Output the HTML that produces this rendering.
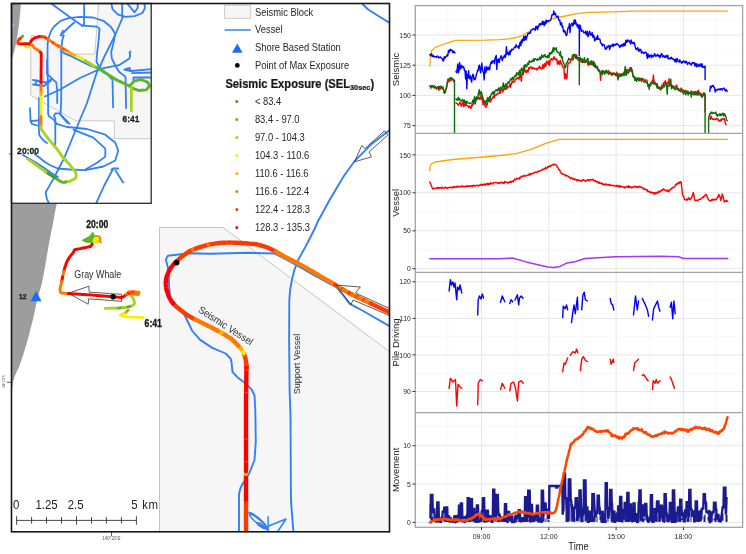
<!DOCTYPE html>
<html><head><meta charset="utf-8"><title>Seismic exposure figure</title>
<style>
html,body{margin:0;padding:0;background:#fff;}
body{width:746px;height:554px;overflow:hidden;}
svg{display:block;font-family:"Liberation Sans",Arial,sans-serif;}
</style></head><body>
<svg width="746" height="554" viewBox="0 0 746 554">
<rect width="746" height="554" fill="#fff"/>
<g id="charts">
<rect x="415.3" y="5.6" width="327.3" height="521.6999999999999" fill="#fff"/>
<line x1="415.3" x2="742.6" y1="110.5" y2="110.5" stroke="#f2f2f2" stroke-width="0.6"/>
<line x1="415.3" x2="742.6" y1="80.3" y2="80.3" stroke="#f2f2f2" stroke-width="0.6"/>
<line x1="415.3" x2="742.6" y1="50.1" y2="50.1" stroke="#f2f2f2" stroke-width="0.6"/>
<line x1="415.3" x2="742.6" y1="19.9" y2="19.9" stroke="#f2f2f2" stroke-width="0.6"/>
<line x1="447.9" x2="447.9" y1="5.6" y2="133.3" stroke="#f2f2f2" stroke-width="0.6"/>
<line x1="515.1" x2="515.1" y1="5.6" y2="133.3" stroke="#f2f2f2" stroke-width="0.6"/>
<line x1="582.4" x2="582.4" y1="5.6" y2="133.3" stroke="#f2f2f2" stroke-width="0.6"/>
<line x1="649.7" x2="649.7" y1="5.6" y2="133.3" stroke="#f2f2f2" stroke-width="0.6"/>
<line x1="717.0" x2="717.0" y1="5.6" y2="133.3" stroke="#f2f2f2" stroke-width="0.6"/>
<line x1="415.3" x2="742.6" y1="125.6" y2="125.6" stroke="#e6e6e6" stroke-width="1"/>
<line x1="415.3" x2="742.6" y1="95.4" y2="95.4" stroke="#e6e6e6" stroke-width="1"/>
<line x1="415.3" x2="742.6" y1="65.2" y2="65.2" stroke="#e6e6e6" stroke-width="1"/>
<line x1="415.3" x2="742.6" y1="35.0" y2="35.0" stroke="#e6e6e6" stroke-width="1"/>
<line x1="481.5" x2="481.5" y1="5.6" y2="133.3" stroke="#e6e6e6" stroke-width="1"/>
<line x1="548.8" x2="548.8" y1="5.6" y2="133.3" stroke="#e6e6e6" stroke-width="1"/>
<line x1="616.1" x2="616.1" y1="5.6" y2="133.3" stroke="#e6e6e6" stroke-width="1"/>
<line x1="683.4" x2="683.4" y1="5.6" y2="133.3" stroke="#e6e6e6" stroke-width="1"/>
<line x1="415.3" x2="742.6" y1="249.7" y2="249.7" stroke="#f2f2f2" stroke-width="0.6"/>
<line x1="415.3" x2="742.6" y1="211.8" y2="211.8" stroke="#f2f2f2" stroke-width="0.6"/>
<line x1="415.3" x2="742.6" y1="173.9" y2="173.9" stroke="#f2f2f2" stroke-width="0.6"/>
<line x1="447.9" x2="447.9" y1="133.3" y2="272.4" stroke="#f2f2f2" stroke-width="0.6"/>
<line x1="515.1" x2="515.1" y1="133.3" y2="272.4" stroke="#f2f2f2" stroke-width="0.6"/>
<line x1="582.4" x2="582.4" y1="133.3" y2="272.4" stroke="#f2f2f2" stroke-width="0.6"/>
<line x1="649.7" x2="649.7" y1="133.3" y2="272.4" stroke="#f2f2f2" stroke-width="0.6"/>
<line x1="717.0" x2="717.0" y1="133.3" y2="272.4" stroke="#f2f2f2" stroke-width="0.6"/>
<line x1="415.3" x2="742.6" y1="268.7" y2="268.7" stroke="#e6e6e6" stroke-width="1"/>
<line x1="415.3" x2="742.6" y1="230.8" y2="230.8" stroke="#e6e6e6" stroke-width="1"/>
<line x1="415.3" x2="742.6" y1="192.8" y2="192.8" stroke="#e6e6e6" stroke-width="1"/>
<line x1="415.3" x2="742.6" y1="154.9" y2="154.9" stroke="#e6e6e6" stroke-width="1"/>
<line x1="481.5" x2="481.5" y1="133.3" y2="272.4" stroke="#e6e6e6" stroke-width="1"/>
<line x1="548.8" x2="548.8" y1="133.3" y2="272.4" stroke="#e6e6e6" stroke-width="1"/>
<line x1="616.1" x2="616.1" y1="133.3" y2="272.4" stroke="#e6e6e6" stroke-width="1"/>
<line x1="683.4" x2="683.4" y1="133.3" y2="272.4" stroke="#e6e6e6" stroke-width="1"/>
<line x1="415.3" x2="742.6" y1="409.8" y2="409.8" stroke="#f2f2f2" stroke-width="0.6"/>
<line x1="415.3" x2="742.6" y1="373.2" y2="373.2" stroke="#f2f2f2" stroke-width="0.6"/>
<line x1="415.3" x2="742.6" y1="336.6" y2="336.6" stroke="#f2f2f2" stroke-width="0.6"/>
<line x1="415.3" x2="742.6" y1="300.1" y2="300.1" stroke="#f2f2f2" stroke-width="0.6"/>
<line x1="447.9" x2="447.9" y1="272.4" y2="412.6" stroke="#f2f2f2" stroke-width="0.6"/>
<line x1="515.1" x2="515.1" y1="272.4" y2="412.6" stroke="#f2f2f2" stroke-width="0.6"/>
<line x1="582.4" x2="582.4" y1="272.4" y2="412.6" stroke="#f2f2f2" stroke-width="0.6"/>
<line x1="649.7" x2="649.7" y1="272.4" y2="412.6" stroke="#f2f2f2" stroke-width="0.6"/>
<line x1="717.0" x2="717.0" y1="272.4" y2="412.6" stroke="#f2f2f2" stroke-width="0.6"/>
<line x1="415.3" x2="742.6" y1="391.5" y2="391.5" stroke="#e6e6e6" stroke-width="1"/>
<line x1="415.3" x2="742.6" y1="354.9" y2="354.9" stroke="#e6e6e6" stroke-width="1"/>
<line x1="415.3" x2="742.6" y1="318.4" y2="318.4" stroke="#e6e6e6" stroke-width="1"/>
<line x1="415.3" x2="742.6" y1="281.8" y2="281.8" stroke="#e6e6e6" stroke-width="1"/>
<line x1="481.5" x2="481.5" y1="272.4" y2="412.6" stroke="#e6e6e6" stroke-width="1"/>
<line x1="548.8" x2="548.8" y1="272.4" y2="412.6" stroke="#e6e6e6" stroke-width="1"/>
<line x1="616.1" x2="616.1" y1="272.4" y2="412.6" stroke="#e6e6e6" stroke-width="1"/>
<line x1="683.4" x2="683.4" y1="272.4" y2="412.6" stroke="#e6e6e6" stroke-width="1"/>
<line x1="415.3" x2="742.6" y1="503.2" y2="503.2" stroke="#f2f2f2" stroke-width="0.6"/>
<line x1="415.3" x2="742.6" y1="464.9" y2="464.9" stroke="#f2f2f2" stroke-width="0.6"/>
<line x1="415.3" x2="742.6" y1="426.6" y2="426.6" stroke="#f2f2f2" stroke-width="0.6"/>
<line x1="447.9" x2="447.9" y1="412.6" y2="527.3" stroke="#f2f2f2" stroke-width="0.6"/>
<line x1="515.1" x2="515.1" y1="412.6" y2="527.3" stroke="#f2f2f2" stroke-width="0.6"/>
<line x1="582.4" x2="582.4" y1="412.6" y2="527.3" stroke="#f2f2f2" stroke-width="0.6"/>
<line x1="649.7" x2="649.7" y1="412.6" y2="527.3" stroke="#f2f2f2" stroke-width="0.6"/>
<line x1="717.0" x2="717.0" y1="412.6" y2="527.3" stroke="#f2f2f2" stroke-width="0.6"/>
<line x1="415.3" x2="742.6" y1="522.4" y2="522.4" stroke="#e6e6e6" stroke-width="1"/>
<line x1="415.3" x2="742.6" y1="484.1" y2="484.1" stroke="#e6e6e6" stroke-width="1"/>
<line x1="415.3" x2="742.6" y1="445.8" y2="445.8" stroke="#e6e6e6" stroke-width="1"/>
<line x1="481.5" x2="481.5" y1="412.6" y2="527.3" stroke="#e6e6e6" stroke-width="1"/>
<line x1="548.8" x2="548.8" y1="412.6" y2="527.3" stroke="#e6e6e6" stroke-width="1"/>
<line x1="616.1" x2="616.1" y1="412.6" y2="527.3" stroke="#e6e6e6" stroke-width="1"/>
<line x1="683.4" x2="683.4" y1="412.6" y2="527.3" stroke="#e6e6e6" stroke-width="1"/>
</g>
<g id="chartdata" fill="none" stroke-linejoin="round" stroke-linecap="round">
<polyline points="429.8,66.0 430.3,58.0 431.4,51.0 435.0,47.6 440.0,45.5 450.2,42.1 455.0,40.4 485.5,40.2 500.0,39.6 509.0,38.8 516.0,37.5 523.0,35.3 529.0,31.5 535.0,28.3 539.4,25.2 546.0,21.5 553.5,18.5 565.2,16.0 577.0,13.6 588.7,12.3 612.2,11.8 631.0,11.2 727.6,11.2" stroke="#ffa500" stroke-width="1.3"/>
<polyline points="429.8,54.7 430.4,55.6 431.0,55.3 431.6,53.6 432.2,56.5 432.8,56.3 433.4,55.4 434.0,56.9 434.6,56.8 435.2,56.8 435.8,56.7 436.4,57.4 437.0,56.0 437.6,56.8 438.2,56.5 438.8,58.0 439.4,57.4 440.0,57.1 440.6,56.9 441.2,57.9 441.8,58.6 442.4,58.6 443.0,60.9 443.6,60.9 444.2,56.8 444.8,57.1 445.4,58.0 446.0,56.5 446.6,56.1 447.2,54.8 447.8,55.9 448.4,50.8 449.0,50.4 449.6,52.1 450.2,49.2 450.8,50.4 451.4,50.2 452.0,50.0 452.6,52.4 453.2,52.6 453.8,51.2 454.4,52.1 455.0,53.0" stroke="#0000ff" stroke-width="1.4"/>
<polyline points="456.0,71.2 456.6,72.8 457.2,68.9 457.8,64.0 458.4,72.8 459.0,70.9 459.6,62.5 460.2,69.1 460.8,67.6 461.4,65.3 462.0,68.1 462.6,66.2 463.2,67.1 463.8,67.0 464.4,70.6 465.0,70.3 465.6,79.0 466.2,71.1 466.8,88.8 467.4,74.8 468.0,77.6 468.6,70.8 469.2,78.5 469.8,78.7 470.4,75.8 471.0,79.5 471.6,82.1 472.2,76.6 472.8,74.4 473.4,74.9 474.0,79.7 474.6,78.2 475.2,79.6 475.8,77.2 476.4,74.5 477.0,72.9 477.6,70.3 478.2,70.7 478.8,66.3 479.4,65.1 480.0,69.4 480.6,72.7 481.2,67.8 481.8,63.2 482.4,68.6 483.0,71.8 483.6,72.5 484.2,79.9 484.8,66.9 485.4,72.9 486.0,72.1 486.6,66.6 487.2,68.8 487.8,70.0 488.4,67.1 489.0,68.0 489.6,69.8 490.2,65.0 490.8,63.2 491.4,61.4 492.0,63.3 492.6,61.0 493.2,60.8 493.8,60.7 494.4,63.6 495.0,58.4 495.6,57.3 496.2,55.4 496.8,69.4 497.4,59.6 498.0,61.9 498.6,58.9 499.2,62.6 499.8,59.3 500.4,58.1 501.0,55.7 501.6,56.2 502.2,60.7 502.8,59.0 503.4,57.8 504.0,56.3 504.6,55.2 505.2,57.5 505.8,55.2 506.4,46.8 507.0,54.2 507.6,52.4 508.2,53.8 508.8,55.0 509.4,51.1 510.0,54.6 510.6,50.4 511.2,51.4 511.8,49.2 512.4,49.8 513.0,49.8 513.6,48.5 514.2,47.5 514.8,47.1 515.4,47.8 516.0,44.6 516.6,46.2 517.2,46.8 517.8,47.1 518.4,46.0 519.0,48.5 519.6,44.2 520.2,42.3 520.8,45.7 521.4,40.1 522.0,42.9 522.6,39.1 523.2,40.7 523.8,36.2 524.4,40.4 525.0,38.0 525.6,36.0 526.2,39.7 526.8,37.4 527.4,35.4 528.0,33.3 528.6,33.7 529.2,32.8 529.8,33.5 530.4,33.0 531.0,30.2 531.6,29.9 532.2,29.5 532.8,29.3 533.4,28.5 534.0,28.9 534.6,29.7 535.2,30.3 535.8,26.5 536.4,28.3 537.0,26.2 537.6,29.9 538.2,26.1 538.8,26.6 539.4,23.8 540.0,23.6 540.6,24.9 541.2,23.5 541.8,24.3 542.4,21.1 543.0,24.4 543.6,21.7 544.2,25.7 544.8,22.3 545.4,24.3 546.0,20.2 546.6,22.8 547.2,20.6 547.8,21.0 548.4,21.6 549.0,20.6 549.6,20.7 550.2,20.6 550.8,19.6 551.4,17.6 552.0,14.7 552.6,14.8 553.2,14.8 553.8,11.0 554.4,14.6 555.0,13.1 555.6,13.9 556.2,16.5 556.8,17.0 557.4,17.1 558.0,16.1 558.6,19.3 559.2,20.7 559.8,20.2 560.4,24.4 561.0,25.0 561.6,22.6 562.2,27.1 562.8,26.4 563.4,31.3 564.0,32.1 564.6,30.5 565.2,32.1 565.8,34.9 566.4,35.6 567.0,34.5 567.6,29.6 568.2,27.5 568.8,28.1 569.4,23.7 570.0,32.6 570.6,26.7 571.2,24.6 571.8,23.2 572.4,24.5 573.0,25.9 573.6,22.7 574.2,20.2 574.8,23.8 575.4,19.9 576.0,24.2 576.6,23.6 577.2,26.6 577.8,24.6 578.4,28.3 579.0,27.4 579.3,25.0 579.3,55.5 579.5,27.0 579.6,25.1 580.2,25.3 580.8,28.3 581.4,31.3 582.0,30.2 582.6,30.7 583.2,30.9 583.8,32.9 584.4,32.7 585.0,32.7 585.6,31.1 586.2,34.5 586.8,34.9 587.4,31.3 588.0,36.7 588.6,34.6 589.2,33.1 589.8,31.3 590.4,35.1 591.0,35.2 591.6,33.9 592.2,32.6 592.8,37.2 593.4,35.1 594.0,35.7 594.6,40.8 595.2,40.2 595.8,38.9 596.4,37.3 597.0,39.3 597.6,35.5 598.2,39.4 598.8,39.0 599.4,39.0 600.0,39.4 600.6,43.1 601.2,43.3 601.8,44.2 602.4,45.9 603.0,44.3 603.6,44.6 604.2,44.6 604.8,47.4 605.4,49.4 606.0,47.9 606.6,48.8 607.2,46.1 607.8,46.9 608.4,46.3 609.0,45.4 609.6,49.5 610.2,47.9 610.8,45.5 611.4,45.3 612.0,46.1 612.6,44.1 613.2,46.6 613.8,44.2 614.4,45.4 615.0,44.4 615.6,45.1 616.2,43.9 616.8,43.5 617.4,44.3 618.0,44.6 618.6,45.1 619.2,45.5 619.8,47.5 620.4,46.4 621.0,44.9 621.6,46.2 622.2,44.2 622.8,46.0 623.4,45.8 624.0,43.2 624.6,45.6 625.2,45.3 625.8,40.2 626.4,42.4 627.0,42.3 627.6,40.0 628.2,40.7 628.8,40.4 629.4,42.0 630.0,41.3 630.6,44.0 631.2,40.0 631.8,42.9 632.4,42.4 633.0,43.6 633.6,42.6 634.2,42.5 634.8,44.9 635.4,47.8 636.0,49.6 636.6,48.7 637.2,49.0 637.8,47.6 638.4,51.1 639.0,51.3 639.6,49.2 640.2,50.3 640.8,49.4 641.4,53.0 642.0,52.1 642.6,51.8 643.2,52.9 643.8,53.4 644.4,52.8 645.0,52.1 645.6,52.5 646.2,52.4 646.8,55.7 647.4,58.4 648.0,53.8 648.6,56.6 649.2,57.1 649.8,55.2 650.4,56.6 651.0,54.9 651.6,57.7 652.2,55.3 652.8,56.1 653.4,56.7 654.0,55.2 654.6,53.4 655.2,54.9 655.8,56.5 656.4,55.4 657.0,55.8 657.6,54.2 658.2,55.7 658.8,56.4 659.4,55.5 660.0,57.9 660.6,55.2 661.2,54.2 661.8,53.5 662.4,56.9 663.0,55.4 663.6,56.7 664.2,56.1 664.8,57.5 665.4,57.1 666.0,55.4 666.6,56.5 667.2,57.8 667.8,55.3 668.4,58.8 669.0,58.8 669.6,58.9 670.2,57.7 670.8,58.6 671.4,57.2 672.0,58.9 672.6,58.4 673.2,59.5 673.8,59.1 674.4,60.4 675.0,61.7 675.6,59.1 676.2,62.0 676.8,58.8 677.4,58.8 678.0,61.3 678.6,61.5 679.2,62.0 679.8,59.6 680.4,61.6 681.0,61.9 681.6,63.2 682.2,61.7 682.8,62.5 683.4,60.8 684.0,61.8 684.6,61.6 685.2,63.0 685.8,61.1 686.4,61.3 687.0,63.0 687.6,64.5 688.2,62.9 688.8,62.9 689.4,62.3 690.0,64.1 690.6,63.7 691.2,65.2 691.8,63.8 692.4,62.5 693.0,63.1 693.6,62.8 694.2,62.7 694.8,65.8 695.4,65.4 696.0,63.3 696.6,66.9 697.2,65.3 697.8,64.1 698.4,66.3 699.0,66.4 699.6,64.9 700.2,63.8 700.8,66.2 701.4,66.6 702.0,63.6 702.6,67.2 703.2,67.5 703.8,66.5 704.4,67.3 705.1,66.0 705.1,79.6" stroke="#0000ff" stroke-width="1.4"/>
<polyline points="709.8,91.3 710.4,86.3 711.0,88.1 711.6,86.4 712.2,85.6 712.8,86.4 713.4,85.4 714.0,87.6 714.6,87.6 715.2,92.0 715.8,89.8 716.4,89.9 717.0,90.4 717.6,89.7 718.2,89.0 718.8,89.3 719.4,89.8 720.0,88.8 720.6,89.8 721.2,88.6 721.8,88.7 722.4,90.0 723.0,89.0 723.6,88.0 724.2,88.4 724.8,89.5 725.4,91.1 726.0,89.5 726.6,90.0 727.2,91.5" stroke="#0000ff" stroke-width="1.4"/>
<polyline points="429.8,85.9 430.4,86.5 431.0,88.2 431.6,87.4 432.2,85.5 432.8,87.1 433.4,86.6 434.0,87.4 434.6,86.0 435.2,87.8 435.8,87.9 436.4,89.2 437.0,88.2 437.6,88.4 438.2,86.7 438.8,90.2 439.4,86.6 440.0,89.4 440.6,88.2 441.2,87.8 441.8,88.2 442.4,88.2 443.0,89.3 443.6,90.0 444.2,93.1 444.8,91.8 445.4,92.3 446.0,89.1 446.6,88.1 447.2,83.0 447.8,82.1 448.4,81.8 449.0,79.7 449.6,81.4 450.2,80.2 450.8,80.4 451.4,79.9 452.0,78.6 452.6,79.3 453.2,80.3 453.8,81.7" stroke="#ff0000" stroke-width="1.4"/>
<polyline points="456.0,102.9 456.6,103.3 457.2,103.6 457.8,104.4 458.4,105.4 459.0,103.9 459.6,102.9 460.2,102.6 460.8,104.6 461.4,106.5 462.0,103.9 462.6,102.2 463.2,102.9 463.8,106.9 464.4,105.3 465.0,103.0 465.6,105.6 466.2,104.4 466.8,105.3 467.4,105.7 468.0,105.6 468.6,107.5 469.2,106.8 469.8,106.2 470.4,107.8 471.0,108.5 471.6,104.9 472.2,106.0 472.8,104.2 473.4,104.4 474.0,102.0 474.6,103.0 475.2,102.1 475.8,100.9 476.4,99.2 477.0,99.6 477.6,98.2 478.2,97.3 478.8,99.0 479.4,97.3 480.0,99.3 480.6,98.2 481.2,95.1 481.8,99.5 482.4,98.9 483.0,104.8 483.6,104.1 484.2,101.5 484.8,105.2 485.4,106.4 486.0,107.4 486.6,103.4 487.2,105.0 487.8,101.4 488.4,101.4 489.0,99.6 489.6,101.7 490.2,99.6 490.8,101.8 491.4,98.9 492.0,98.8 492.6,98.3 493.2,96.0 493.8,96.3 494.4,97.8 495.0,95.0 495.6,95.4 496.2,94.7 496.8,95.1 497.4,93.4 498.0,93.3 498.6,93.5 499.2,93.0 499.8,91.3 500.4,93.3 501.0,90.0 501.6,89.8 502.2,89.3 502.8,92.0 503.4,89.8 504.0,88.7 504.6,88.1 505.2,89.8 505.8,87.5 506.4,86.8 507.0,89.0 507.6,86.2 508.2,87.0 508.8,87.1 509.4,86.0 510.0,83.8 510.6,87.2 511.2,84.0 511.8,82.4 512.4,81.0 513.0,82.6 513.6,81.8 514.2,82.0 514.8,80.4 515.4,79.8 516.0,78.9 516.6,78.5 517.2,78.8 517.8,77.5 518.4,77.5 519.0,79.3 519.6,76.8 520.2,73.4 520.8,77.2 521.4,81.4 522.0,72.8 522.6,74.9 523.2,73.2 523.8,72.9 524.4,65.9 525.0,70.6 525.6,71.6 526.2,72.5 526.8,70.2 527.4,70.8 528.0,72.3 528.6,67.8 529.2,69.3 529.8,67.8 530.4,67.0 531.0,66.9 531.6,68.2 532.2,68.7 532.8,67.4 533.4,68.1 534.0,68.9 534.6,68.3 535.2,69.0 535.8,68.4 536.4,68.4 537.0,70.1 537.6,68.4 538.2,67.7 538.8,68.4 539.4,66.2 540.0,66.9 540.6,68.4 541.2,68.1 541.8,69.2 542.4,66.7 543.0,64.3 543.6,68.4 544.2,66.8 544.8,63.5 545.4,66.3 546.0,65.4 546.6,61.2 547.2,62.6 547.8,62.1 548.4,64.4 549.0,60.8 549.6,65.5 550.2,60.4 550.8,60.1 551.4,58.5 552.0,59.4 552.6,60.0 553.2,58.9 553.8,56.9 554.4,57.2 555.0,59.5 555.6,59.0 556.2,59.8 556.8,59.0 557.4,64.2 558.0,63.1 558.6,61.0 559.2,63.8 559.8,64.7 560.4,60.2 561.0,62.9 561.6,63.4 562.2,65.8 562.8,67.1 563.4,67.0 564.0,68.4 564.6,78.7 565.2,73.6 565.8,74.8 566.4,79.0 567.0,77.6 567.6,66.8 568.2,63.0 568.8,63.0 569.4,62.8 570.0,62.7 570.6,61.2 571.2,58.8 571.8,59.8 572.4,58.7 573.0,60.0 573.6,56.8 574.2,54.3 574.8,54.4 575.4,58.2 576.0,56.3 576.6,54.9 577.2,57.4 577.8,58.8 578.4,60.6 579.0,59.6 579.6,60.3 580.2,60.6 580.8,58.9 581.4,59.7 582.0,62.4 582.6,62.5 583.2,61.6 583.8,61.1 584.4,62.3 585.0,60.8 585.6,61.1 586.2,60.3 586.8,61.6 587.4,61.7 588.0,65.5 588.6,62.0 589.2,64.1 589.8,64.4 590.4,62.8 591.0,64.7 591.6,60.7 592.2,63.8 592.8,65.0 593.4,61.2 594.0,63.4 594.6,66.8 595.2,65.9 595.8,65.5 596.4,67.0 597.0,67.5 597.6,69.7 598.2,70.0 598.8,69.8 599.4,70.0 600.0,71.4 600.6,80.3 601.2,72.5 601.8,72.9 602.4,71.9 603.0,70.6 603.6,71.3 604.2,73.0 604.8,72.4 605.4,71.2 606.0,70.4 606.6,72.5 607.2,72.0 607.8,72.0 608.4,70.6 609.0,74.3 609.6,72.9 610.2,73.9 610.8,74.0 611.4,74.6 612.0,75.0 612.6,72.9 613.2,73.4 613.8,74.2 614.4,73.4 615.0,74.6 615.6,75.5 616.2,73.3 616.8,72.2 617.4,76.0 618.0,74.7 618.6,75.7 619.2,73.4 619.8,76.9 620.4,75.5 621.0,74.2 621.6,73.8 622.2,74.1 622.8,73.6 623.4,73.2 624.0,72.0 624.6,74.7 625.2,74.4 625.8,74.8 626.4,72.6 627.0,69.1 627.6,72.0 628.2,70.3 628.8,69.8 629.4,69.7 630.0,67.8 630.6,69.4 631.2,67.8 631.8,69.3 632.4,71.1 633.0,76.3 633.6,76.6 634.2,76.8 634.8,77.2 635.4,80.3 636.0,77.7 636.6,80.4 637.2,78.9 637.8,78.2 638.4,78.2 639.0,78.2 639.6,80.1 640.2,78.8 640.8,80.1 641.4,81.5 642.0,79.0 642.6,78.4 643.2,79.0 643.8,79.1 644.4,80.5 645.0,80.9 645.6,80.7 646.2,79.7 646.8,80.2 647.4,82.3 648.0,86.7 648.6,86.1 649.2,85.3 649.8,84.8 650.4,85.9 651.0,84.0 651.6,81.9 652.2,81.0 652.8,81.9 653.4,75.0 654.0,81.2 654.6,81.8 655.2,83.1 655.8,83.4 656.4,85.4 657.0,83.5 657.6,85.4 658.2,88.4 658.8,86.8 659.4,88.8 660.0,89.3 660.6,89.9 661.2,88.5 661.8,85.3 662.4,85.8 663.0,84.9 663.6,82.8 664.2,83.3 664.8,81.7 665.4,80.8 666.0,83.2 666.6,83.2 667.2,82.8 667.8,82.8 668.4,83.6 669.0,78.6 669.6,84.3 670.2,85.0 670.8,84.9 671.4,86.1 672.0,86.6 672.6,86.7 673.2,85.8 673.8,86.2 674.4,87.7 675.0,87.3 675.6,87.8 676.2,85.3 676.8,85.3 677.4,89.0 678.0,89.2 678.6,90.5 679.2,89.9 679.8,89.5 680.4,89.5 681.0,88.0 681.6,90.8 682.2,89.3 682.8,90.7 683.4,90.5 684.0,90.8 684.6,91.7 685.2,90.3 685.8,90.5 686.4,92.4 687.0,90.9 687.6,93.4 688.2,91.3 688.8,93.1 689.4,92.8 690.0,92.8 690.6,93.0 691.2,91.0 691.8,92.6 692.4,94.1 693.0,91.6 693.6,92.4 694.2,91.8 694.8,93.0 695.4,91.5 696.0,94.6 696.6,92.4 697.2,91.2 697.8,95.0 698.4,90.2 699.0,93.8 699.6,93.9 700.2,93.0 700.8,93.2 701.4,94.3 702.0,94.6 702.6,94.7 703.2,94.0 703.8,93.3 704.4,93.7 705.0,95.2 705.1,94.0 705.1,112.0" stroke="#ff0000" stroke-width="1.4"/>
<polyline points="709.8,118.5 710.4,119.2 711.0,115.9 711.6,117.9 712.2,119.0 712.8,119.4 713.4,118.9 714.0,119.7 714.6,118.9 715.2,119.3 715.8,119.2 716.4,118.3 717.0,118.7 717.6,119.8 718.2,119.2 718.8,120.9 719.4,121.0 720.0,121.3 720.6,119.7 721.2,120.7 721.8,118.7 722.4,118.7 723.0,119.3 723.6,119.3 724.2,118.4 724.8,120.2 725.4,123.7 726.0,124.7" stroke="#ff0000" stroke-width="1.4"/>
<polyline points="429.8,86.0 430.4,86.4 431.0,86.0 431.6,85.5 432.2,86.1 432.8,85.7 433.4,86.7 434.0,88.0 434.6,86.5 435.2,86.5 435.8,87.6 436.4,87.6 437.0,87.4 437.6,86.6 438.2,87.5 438.8,88.3 439.4,86.5 440.0,87.4 440.6,86.2 441.2,86.9 441.8,86.5 442.4,88.1 443.0,87.2 443.6,89.9 444.2,91.8 444.8,93.4 445.4,90.0 446.0,88.9 446.6,86.4 447.2,83.7 447.8,79.3 448.4,79.4 449.0,78.6 449.6,78.3 450.2,79.6 450.8,77.5 451.4,77.8 452.0,79.2 452.6,78.5 453.2,79.5 453.8,80.3 454.5,80.0 454.5,133.0" stroke="#0b6e0b" stroke-width="1.4"/>
<polyline points="456.0,98.9 456.6,100.0 457.2,98.9 457.8,100.1 458.4,97.1 459.0,99.9 459.6,98.6 460.2,100.9 460.8,100.8 461.4,101.2 462.0,100.1 462.6,99.4 463.2,101.1 463.8,102.4 464.4,99.9 465.0,102.7 465.6,101.6 466.2,104.1 466.8,101.1 467.4,102.0 468.0,103.1 468.6,103.1 469.2,103.0 469.8,103.6 470.4,103.1 471.0,103.1 471.6,103.1 472.2,102.9 472.8,100.2 473.4,103.3 474.0,99.2 474.6,96.6 475.2,104.0 475.8,100.3 476.4,96.9 477.0,99.1 477.6,98.5 478.2,94.5 478.8,91.7 479.4,89.7 480.0,95.5 480.6,92.1 481.2,91.8 481.8,93.4 482.4,96.6 483.0,97.9 483.6,100.5 484.2,102.0 484.8,100.7 485.4,103.2 486.0,101.1 486.6,101.6 487.2,98.8 487.8,97.6 488.4,101.0 489.0,99.5 489.6,96.6 490.2,98.3 490.8,95.5 491.4,93.8 492.0,93.5 492.6,92.0 493.2,94.0 493.8,91.6 494.4,94.0 495.0,90.7 495.6,90.2 496.2,89.7 496.8,90.7 497.4,89.6 498.0,90.9 498.6,87.9 499.2,88.7 499.8,90.6 500.4,87.3 501.0,88.0 501.6,89.0 502.2,87.3 502.8,85.3 503.4,83.0 504.0,88.7 504.6,85.7 505.2,86.5 505.8,83.8 506.4,86.5 507.0,84.4 507.6,83.4 508.2,81.8 508.8,83.1 509.4,81.4 510.0,81.2 510.6,78.7 511.2,79.6 511.8,79.9 512.4,77.4 513.0,77.7 513.6,79.7 514.2,76.9 514.8,75.9 515.4,75.3 516.0,76.8 516.6,72.8 517.2,73.9 517.8,73.1 518.4,75.2 519.0,72.4 519.6,70.4 520.2,74.0 520.8,70.9 521.4,68.3 522.0,68.3 522.6,71.8 523.2,74.3 523.8,65.9 524.4,68.0 525.0,64.6 525.6,64.8 526.2,66.4 526.8,66.9 527.4,63.9 528.0,63.0 528.6,64.5 529.2,60.8 529.8,62.0 530.4,61.6 531.0,62.4 531.6,61.3 532.2,60.4 532.8,61.4 533.4,58.9 534.0,61.2 534.6,59.1 535.2,58.6 535.8,59.1 536.4,59.5 537.0,60.2 537.6,58.8 538.2,59.8 538.8,60.0 539.4,58.4 540.0,57.0 540.6,59.4 541.2,58.3 541.8,55.0 542.4,56.3 543.0,57.6 543.6,55.4 544.2,56.1 544.8,54.5 545.4,57.1 546.0,56.7 546.6,56.4 547.2,57.9 547.8,55.4 548.4,55.3 549.0,57.8 549.6,52.6 550.2,54.3 550.8,53.5 551.4,51.9 552.0,53.4 552.6,50.1 553.2,47.8 553.8,51.6 554.4,48.0 555.0,48.6 555.6,49.5 556.2,47.6 556.8,51.0 557.4,52.4 558.0,52.3 558.6,52.8 559.2,53.2 559.8,55.6 560.4,51.4 561.0,56.4 561.6,58.0 562.2,56.6 562.8,61.3 563.4,62.2 564.0,63.9 564.6,65.7 565.2,67.9 565.8,66.4 566.4,63.0 567.0,62.8 567.6,61.3 568.2,60.2 568.8,58.2 569.4,59.7 570.0,59.6 570.6,59.4 571.2,59.5 571.8,58.4 572.4,55.5 573.0,54.8 573.6,54.6 574.2,55.3 574.8,54.4 575.4,56.6 576.0,58.3 576.6,56.4 577.2,59.0 577.8,58.1 578.4,57.5 579.0,57.6 579.3,59.0 579.3,84.8 579.5,60.0 579.6,59.0 580.2,57.2 580.8,60.4 581.4,61.9 582.0,58.6 582.6,59.9 583.2,62.4 583.8,61.1 584.4,57.6 585.0,60.7 585.6,62.5 586.2,61.8 586.8,60.2 587.4,58.7 588.0,58.5 588.6,63.0 589.2,62.0 589.8,64.3 590.4,63.4 591.0,61.3 591.6,63.5 592.2,64.8 592.8,62.4 593.4,63.1 594.0,66.6 594.6,62.9 595.2,64.4 595.8,67.8 596.4,67.5 597.0,66.5 597.6,66.8 598.2,69.9 598.8,71.5 599.4,71.7 600.0,71.9 600.6,73.9 601.2,72.5 601.8,71.1 602.4,74.7 603.0,70.8 603.6,72.2 604.2,72.3 604.8,74.3 605.4,71.6 606.0,72.3 606.6,70.5 607.2,73.2 607.8,73.4 608.4,73.7 609.0,71.9 609.6,73.4 610.2,72.1 610.8,72.8 611.4,73.4 612.0,75.2 612.6,74.5 613.2,74.2 613.8,73.1 614.4,73.6 615.0,73.6 615.6,74.4 616.2,75.7 616.8,73.5 617.4,75.9 618.0,79.8 618.6,75.7 619.2,74.8 619.8,74.9 620.4,74.6 621.0,76.2 621.6,75.0 622.2,75.8 622.8,73.8 623.4,73.8 624.0,75.8 624.6,71.7 625.2,66.5 625.8,73.0 626.4,75.4 627.0,71.6 627.6,72.7 628.2,73.1 628.8,72.6 629.4,69.8 630.0,71.4 630.6,68.1 631.2,67.7 631.8,71.9 632.4,72.2 633.0,76.3 633.6,77.2 634.2,76.4 634.8,80.4 635.4,80.1 636.0,79.3 636.6,81.4 637.2,78.0 637.8,78.6 638.4,79.5 639.0,81.0 639.6,78.2 640.2,79.3 640.8,79.2 641.4,78.3 642.0,79.9 642.6,79.4 643.2,80.8 643.8,82.1 644.4,81.2 645.0,81.8 645.6,82.1 646.2,82.8 646.8,82.4 647.4,83.4 648.0,85.4 648.6,84.7 649.2,89.5 649.8,84.2 650.4,85.3 651.0,82.5 651.6,83.5 652.2,82.8 652.8,82.9 653.4,84.1 654.0,82.8 654.6,82.1 655.2,84.3 655.8,83.6 656.4,85.2 657.0,87.8 657.6,87.7 658.2,88.4 658.8,88.4 659.4,88.4 660.0,87.2 660.6,88.8 661.2,88.0 661.8,88.7 662.4,88.3 663.0,86.9 663.6,84.7 664.2,87.0 664.8,85.7 665.4,83.4 666.0,84.2 666.6,85.0 667.2,94.3 667.8,84.8 668.4,85.8 669.0,85.5 669.6,86.0 670.2,84.3 670.8,79.3 671.4,88.7 672.0,85.3 672.6,87.9 673.2,88.0 673.8,88.2 674.4,87.4 675.0,89.7 675.6,89.2 676.2,88.7 676.8,87.8 677.4,89.4 678.0,89.1 678.6,88.5 679.2,90.6 679.8,91.0 680.4,91.5 681.0,90.8 681.6,90.6 682.2,92.4 682.8,92.1 683.4,94.0 684.0,92.2 684.6,90.7 685.2,93.1 685.8,94.8 686.4,92.6 687.0,92.3 687.6,92.0 688.2,95.0 688.8,92.8 689.4,92.9 690.0,93.6 690.6,91.7 691.2,97.1 691.8,92.1 692.4,93.4 693.0,94.2 693.6,94.8 694.2,93.4 694.8,94.9 695.4,93.6 696.0,92.3 696.6,94.9 697.2,94.1 697.8,94.5 698.4,91.6 699.0,94.8 699.6,94.9 700.2,95.0 700.8,96.0 701.4,94.5 702.0,97.4 702.6,95.9 703.2,95.8 703.8,92.6 704.4,93.2 705.0,97.1 705.1,95.4 705.1,133.0" stroke="#0b6e0b" stroke-width="1.4"/>
<polyline points="708.6,133.0 708.6,118.0 709.8,113.6 710.4,114.0 711.0,112.0 711.6,113.4 712.2,113.4 712.8,112.3 713.4,113.3 714.0,113.3 714.6,113.0 715.2,112.8 715.8,112.1 716.4,115.1 717.0,114.1 717.6,116.4 718.2,115.2 718.8,114.7 719.4,113.9 720.0,115.5 720.6,114.0 721.2,115.6 721.8,114.0 722.4,114.5 723.0,113.1 723.6,116.1 724.2,114.2 724.8,113.9 725.4,116.2 726.0,116.9 726.6,120.3 727.2,120.8" stroke="#0b6e0b" stroke-width="1.4"/>
<polyline points="429.7,170.9 430.2,166.0 431.5,163.8 435.2,162.0 452.9,159.5 483.2,157.0 500.0,155.5 516.0,153.7 531.2,149.4 546.4,143.1 559.0,139.3 727.8,139.3" stroke="#ffa500" stroke-width="1.3"/>
<polyline points="429.7,181.8 430.2,183.1 430.7,184.1 431.2,185.7 431.7,186.5 432.2,187.7 432.7,189.0 433.2,189.0 433.7,188.7 434.2,188.3 434.7,188.1 435.2,188.1 435.7,188.3 436.2,188.4 436.7,187.9 437.2,187.8 437.7,188.4 438.2,187.4 438.7,188.1 439.2,188.4 439.7,187.7 440.2,187.6 440.7,187.7 441.2,188.3 441.7,188.0 442.2,187.1 442.7,187.8 443.2,188.4 443.7,188.3 444.2,188.1 444.7,187.7 445.2,187.0 445.7,187.8 446.2,187.7 446.7,187.7 447.2,188.4 447.7,187.7 448.2,187.7 448.7,187.8 449.2,187.4 449.7,187.2 450.2,187.1 450.7,187.8 451.2,187.6 451.7,187.2 452.2,187.9 452.7,187.4 453.2,186.7 453.7,187.5 454.2,187.2 454.7,186.6 455.2,187.4 455.7,187.0 456.2,186.9 456.7,187.3 457.2,186.0 457.7,186.4 458.2,186.8 458.7,187.0 459.2,186.6 459.7,186.4 460.2,186.4 460.7,186.7 461.2,187.1 461.7,186.1 462.2,185.8 462.7,186.5 463.2,186.5 463.7,186.2 464.2,186.8 464.7,186.9 465.2,186.3 465.7,186.3 466.2,186.7 466.7,186.2 467.2,185.7 467.7,186.3 468.2,185.9 468.7,186.4 469.2,186.0 469.7,186.1 470.2,186.4 470.7,186.1 471.2,185.8 471.7,185.6 472.2,186.8 472.7,186.5 473.2,185.3 473.7,185.4 474.2,186.1 474.7,185.5 475.2,185.7 475.7,186.0 476.2,185.6 476.7,185.4 477.2,185.2 477.7,185.3 478.2,185.5 478.7,186.0 479.2,185.6 479.7,185.0 480.2,185.4 480.7,185.0 481.2,184.2 481.7,184.7 482.2,185.2 482.7,184.4 483.2,185.0 483.7,184.4 484.2,184.4 484.7,183.8 485.2,185.2 485.7,184.4 486.2,184.6 486.7,183.9 487.2,183.3 487.7,184.5 488.2,183.5 488.7,184.5 489.2,183.6 489.7,184.4 490.2,183.3 490.7,182.7 491.2,183.8 491.7,183.4 492.2,183.4 492.7,183.9 493.2,183.0 493.7,182.7 494.2,182.8 494.7,182.5 495.2,182.4 495.7,182.6 496.2,182.7 496.7,182.9 497.2,182.6 497.7,183.0 498.2,183.4 498.7,182.9 499.2,183.2 499.7,182.5 500.2,183.0 500.7,183.1 501.2,182.6 501.7,182.1 502.2,182.7 502.7,182.7 503.2,183.3 503.7,182.5 504.2,183.4 504.7,181.5 505.2,182.4 505.7,182.3 506.2,182.3 506.7,182.2 507.2,182.4 507.7,183.1 508.2,182.3 508.7,182.9 509.2,182.3 509.7,182.3 510.2,181.2 510.7,182.3 511.2,182.4 511.7,181.4 512.2,181.3 512.7,181.0 513.2,182.0 513.7,180.4 514.2,180.3 514.7,179.1 515.2,179.4 515.7,179.9 516.2,179.0 516.7,178.1 517.2,178.9 517.7,178.9 518.2,178.7 518.7,178.5 519.2,177.8 519.7,179.1 520.2,177.3 520.7,177.5 521.2,176.5 521.7,176.6 522.2,176.1 522.7,176.7 523.2,176.2 523.7,175.8 524.2,175.2 524.7,176.2 525.2,176.1 525.7,176.0 526.2,175.4 526.7,175.6 527.2,175.5 527.7,175.2 528.2,175.4 528.7,174.5 529.2,174.5 529.7,173.6 530.2,175.1 530.7,173.6 531.2,173.9 531.7,173.9 532.2,173.1 532.7,173.3 533.2,173.5 533.7,172.9 534.2,172.7 534.7,172.5 535.2,172.2 535.7,172.3 536.2,172.3 536.7,172.2 537.2,172.2 537.7,171.6 538.2,171.1 538.7,171.5 539.2,171.1 539.7,171.2 540.2,170.6 540.7,170.5 541.2,170.3 541.7,170.2 542.2,169.2 542.7,169.4 543.2,169.3 543.7,169.8 544.2,168.8 544.7,168.8 545.2,168.3 545.7,167.3 546.2,168.5 546.7,168.1 547.2,168.1 547.7,166.7 548.2,167.2 548.7,167.0 549.2,166.0 549.7,166.7 550.2,166.0 550.7,166.3 551.2,165.1 551.7,165.2 552.2,165.0 552.7,164.4 553.2,164.8 553.7,165.1 554.2,164.3 554.7,164.3 555.2,164.4 555.7,164.8 556.2,165.1 556.7,165.2 557.2,167.0 557.7,167.4 558.2,168.1 558.7,169.4 559.2,170.1 559.7,169.9 560.2,171.5 560.7,172.0 561.2,173.3 561.7,173.5 562.2,174.1 562.7,173.7 563.2,174.0 563.7,174.2 564.2,174.6 564.7,174.9 565.2,175.8 565.7,175.0 566.2,175.8 566.7,175.5 567.2,175.6 567.7,176.2 568.2,176.1 568.7,177.1 569.2,176.9 569.7,177.3 570.2,178.0 570.7,178.7 571.2,178.0 571.7,177.6 572.2,178.4 572.7,178.7 573.2,179.4 573.7,178.9 574.2,178.7 574.7,179.6 575.2,179.8 575.7,179.4 576.2,179.7 576.7,179.8 577.2,181.0 577.7,179.7 578.2,179.9 578.7,180.1 579.2,180.6 579.7,180.3 580.2,180.7 580.7,180.9 581.2,181.4 581.7,180.4 582.2,180.3 582.7,180.3 583.2,179.6 583.7,179.9 584.2,180.4 584.7,180.4 585.2,181.4 585.7,180.8 586.2,180.5 586.7,180.8 587.2,179.8 587.7,179.8 588.2,179.7 588.7,179.9 589.2,180.9 589.7,179.8 590.2,179.6 590.7,179.9 591.2,180.2 591.7,180.0 592.2,180.1 592.7,179.2 593.2,179.6 593.7,180.1 594.2,180.5 594.7,181.3 595.2,180.4 595.7,181.5 596.2,181.3 596.7,182.0 597.2,181.6 597.7,181.6 598.2,183.0 598.7,182.8 599.2,182.1 599.7,183.5 600.2,183.0 600.7,183.5 601.2,183.6 601.7,183.1 602.2,184.3 602.7,183.6 603.2,184.7 603.7,184.2 604.2,184.3 604.7,184.3 605.2,185.2 605.7,183.9 606.2,184.1 606.7,184.2 607.2,185.1 607.7,185.1 608.2,184.8 608.7,184.9 609.2,184.2 609.7,185.7 610.2,185.0 610.7,185.2 611.2,185.1 611.7,185.6 612.2,185.3 612.7,185.5 613.2,185.6 613.7,185.4 614.2,185.4 614.7,185.9 615.2,186.0 615.7,186.2 616.2,186.6 616.7,185.5 617.2,185.3 617.7,186.0 618.2,186.8 618.7,186.3 619.2,185.6 619.7,187.2 620.2,186.8 620.7,185.9 621.2,186.3 621.7,186.8 622.2,186.6 622.7,186.8 623.2,187.2 623.7,187.0 624.2,187.7 624.7,187.1 625.2,187.9 625.7,187.0 626.2,186.8 626.7,186.3 627.2,186.9 627.7,187.3 628.2,187.6 628.7,185.7 629.2,187.2 629.7,186.7 630.2,187.5 630.7,186.9 631.2,187.2 631.7,187.9 632.2,187.1 632.7,187.0 633.2,187.5 633.7,187.2 634.2,186.9 634.7,186.3 635.2,186.8 635.7,186.2 636.2,187.0 636.7,187.2 637.2,186.9 637.7,187.7 638.2,186.4 638.7,187.0 639.2,186.9 639.7,186.3 640.2,187.0 640.7,187.2 641.2,187.6 641.7,187.3 642.2,187.9 642.7,187.6 643.2,188.8 643.7,189.3 644.2,188.8 644.7,189.1 645.2,188.8 645.7,189.6 646.2,189.7 646.7,190.2 647.2,189.8 647.7,191.5 648.2,191.0 648.7,191.7 649.2,191.7 649.7,191.7 650.2,192.9 650.7,192.8 651.2,191.8 651.7,192.6 652.2,192.6 652.7,192.5 653.2,193.9 653.7,192.6 654.2,193.9 654.7,192.6 655.2,194.1 655.7,193.3 656.2,192.4 656.7,193.2 657.2,193.0 657.7,192.1 658.2,192.7 658.7,191.1 659.2,192.1 659.7,191.6 660.2,191.8 660.7,190.5 661.2,190.8 661.7,189.9 662.2,190.2 662.7,189.6 663.2,189.6 663.7,188.7 664.2,189.7 664.7,189.9 665.2,190.7 665.7,190.1 666.2,190.4 666.7,191.0 667.2,191.2 667.7,190.1 668.2,191.3 668.7,191.8 669.2,190.8 669.7,189.7 670.2,189.9 670.7,189.6 671.2,188.7 671.7,188.7 672.2,187.8 672.7,187.7 673.2,187.4 673.7,187.7 674.2,186.6 674.7,186.5 675.2,185.6 675.7,184.6 676.2,184.2 676.7,184.7 677.2,183.3 677.7,183.0 678.2,183.8 678.7,182.7 679.2,182.2 679.7,183.1 680.2,181.7 680.7,182.0 681.2,182.4 681.7,187.1 682.2,191.8 682.7,194.8 683.2,196.3 683.7,196.5 684.2,198.9 684.7,199.4 685.2,199.9 685.7,200.1 686.2,199.5 686.7,199.2 687.2,200.2 687.7,199.2 688.2,198.4 688.7,197.7 689.2,199.3 689.7,198.9 690.2,199.7 690.7,198.3 691.2,198.2 691.7,197.1 692.2,196.1 692.7,194.6 693.2,192.4 693.7,194.4 694.2,197.1 694.7,200.0 695.2,200.6 695.7,200.3 696.2,200.5 696.7,200.2 697.2,200.1 697.7,200.8 698.2,200.0 698.7,199.6 699.2,199.2 699.7,199.1 700.2,199.3 700.7,199.2 701.2,198.5 701.7,198.1 702.2,197.8 702.7,197.1 703.2,197.6 703.7,196.2 704.2,196.3 704.7,196.2 705.2,194.9 705.7,194.5 706.2,194.4 706.7,195.6 707.2,196.7 707.7,197.8 708.2,199.6 708.7,200.0 709.2,200.3 709.7,200.8 710.2,200.5 710.7,200.8 711.2,200.7 711.7,199.7 712.2,199.1 712.7,200.2 713.2,199.8 713.7,199.9 714.2,199.2 714.7,199.9 715.2,199.3 715.7,199.6 716.2,199.7 716.7,198.7 717.2,197.7 717.7,196.5 718.2,197.1 718.7,194.4 719.2,195.4 719.7,195.9 720.2,197.8 720.7,200.4 721.2,199.3 721.7,197.4 722.2,194.0 722.7,195.8 723.2,197.0 723.7,199.4 724.2,201.9 724.7,201.4 725.2,200.9 725.7,201.2 726.2,200.2 726.7,201.4 727.2,201.0 727.7,201.3" stroke="#ff0000" stroke-width="1.4"/>
<polyline points="429.7,258.8 498.4,258.8 512.3,258.0 526.2,261.9 540.0,265.2 548.0,267.0 554.0,267.6 560.0,266.4 566.6,263.1 575.0,261.8 585.0,258.5 615.4,256.8 660.9,256.3 678.6,256.8 683.6,258.5 727.8,258.5" stroke="#a336f2" stroke-width="1.5"/>
<polyline points="449.1,291.0 450.4,279.6 451.5,285.0 452.9,282.0 454.0,287.0 455.0,283.0 456.7,299.8 457.5,287.0 459.0,290.0 460.0,285.0 461.8,293.0" stroke="#0000ff" stroke-width="1.4"/>
<polyline points="477.7,315.0 478.2,299.8 479.5,296.0 481.0,299.0 482.3,294.0 483.5,298.0" stroke="#0000ff" stroke-width="1.4"/>
<polyline points="500.5,302.3 502.3,296.0 504.8,301.8" stroke="#0000ff" stroke-width="1.4"/>
<polyline points="509.8,303.6 511.0,299.8 512.8,301.8" stroke="#0000ff" stroke-width="1.4"/>
<polyline points="515.0,300.0 517.4,294.8 518.7,304.9 519.5,298.0 521.2,296.0 523.0,298.3" stroke="#0000ff" stroke-width="1.4"/>
<polyline points="562.7,317.5 563.2,306.1 565.2,308.7 566.5,304.9 567.7,309.9" stroke="#0000ff" stroke-width="1.4"/>
<polyline points="571.5,322.6 572.8,312.4 574.0,305.0 575.3,313.7 577.4,297.3 577.9,309.9" stroke="#0000ff" stroke-width="1.4"/>
<polyline points="581.7,309.9 582.9,294.8 584.2,292.2 585.4,299.8 587.5,301.0" stroke="#0000ff" stroke-width="1.4"/>
<polyline points="610.2,298.5 611.2,303.6 612.7,304.9 613.8,309.9" stroke="#0000ff" stroke-width="1.4"/>
<polyline points="633.5,315.0 635.5,296.0 637.3,309.9 638.5,301.0" stroke="#0000ff" stroke-width="1.4"/>
<polyline points="642.3,298.5 644.8,303.6 647.4,309.9 648.6,316.2" stroke="#0000ff" stroke-width="1.4"/>
<polyline points="652.4,320.0 653.7,308.7 656.2,303.6 657.5,301.0 658.7,307.4 660.0,311.2" stroke="#0000ff" stroke-width="1.4"/>
<polyline points="670.1,307.4 671.4,302.3 672.7,318.8 673.9,301.0 675.2,313.7" stroke="#0000ff" stroke-width="1.4"/>
<polyline points="449.1,388.3 450.4,378.2 452.9,382.0 455.5,379.5 456.7,406.0 458.0,384.5 460.0,387.0 461.8,388.3" stroke="#ff0000" stroke-width="1.4"/>
<polyline points="477.7,404.8 478.2,383.3 480.2,379.5 482.3,380.8" stroke="#ff0000" stroke-width="1.4"/>
<polyline points="500.5,389.6 502.3,383.3 504.8,388.3" stroke="#ff0000" stroke-width="1.4"/>
<polyline points="509.8,390.9 511.0,383.3 513.5,382.0 515.6,388.3 517.4,401.0 518.7,382.0 521.2,380.8 523.2,383.3" stroke="#ff0000" stroke-width="1.4"/>
<polyline points="562.7,371.8 564.0,363.0 565.2,364.3 567.7,358.0" stroke="#ff0000" stroke-width="1.4"/>
<polyline points="570.3,355.4 572.8,351.6 575.3,352.9 576.6,349.1 577.9,352.9" stroke="#ff0000" stroke-width="1.4"/>
<polyline points="580.4,370.6 581.7,359.2 583.4,356.7 585.4,360.5 587.5,361.7" stroke="#ff0000" stroke-width="1.4"/>
<polyline points="610.2,359.2 611.2,364.3 613.3,359.2 613.8,362.5" stroke="#ff0000" stroke-width="1.4"/>
<polyline points="633.5,370.6 634.7,363.0 637.3,360.5 638.5,359.2" stroke="#ff0000" stroke-width="1.4"/>
<polyline points="642.3,375.6 643.6,374.4 646.1,378.2 648.1,380.7" stroke="#ff0000" stroke-width="1.4"/>
<polyline points="652.4,389.5 653.2,380.7 655.0,383.3 656.2,379.5 657.5,383.3 660.0,380.7" stroke="#ff0000" stroke-width="1.4"/>
<polyline points="670.1,376.9 671.4,379.5 672.7,383.3 674.4,388.3" stroke="#ff0000" stroke-width="1.4"/>
<path d="M431.0,521.4V517.3M432.0,521.4V514.3M433.0,521.4V517.3M435.0,521.4V518.2M436.0,519.3V517.7M437.0,519.9V520.5M440.0,518.9V518.9M444.0,521.4V517.1M445.0,521.0V517.0M446.0,521.4V517.4M447.0,521.4V515.1M450.0,519.9V520.5M453.0,521.4V520.5M454.0,521.4V520.5M455.0,521.4V520.5M456.0,519.4V518.3M457.0,519.1V518.4M459.0,521.4V518.6M460.0,520.1V517.5M461.0,521.4V518.3M463.0,521.2V517.5M464.0,521.4V519.6M465.0,521.4V520.5M466.0,521.4V519.4M467.0,521.4V518.6M468.0,521.4V518.1M469.0,521.4V515.5M470.0,521.4V513.1M471.0,521.4V515.2M474.0,521.4V514.4M475.0,521.4V515.8M478.0,521.4V516.7M479.0,521.4V516.6M482.0,519.5V513.8M483.0,521.4V517.1M486.0,521.4V517.0M487.0,521.4V517.5M488.0,521.4V517.5M489.0,521.4V519.6M491.0,521.4V516.8M493.0,520.7V518.1M495.0,521.4V513.4M497.0,521.4V518.3M498.0,521.4V517.9M499.0,521.4V514.7M500.0,521.4V517.7M501.0,519.2V518.5M502.0,521.4V517.4M503.0,519.9V519.7M504.0,521.4V517.1M506.0,521.4V511.6M507.0,521.4V519.9M510.0,521.3V520.5M511.0,520.5V520.5M513.0,521.4V520.5M514.0,520.2V519.8M515.0,521.4V518.4M516.0,521.4V520.5M518.0,521.4V520.5M519.0,521.4V520.5M520.0,521.4V518.9M521.0,521.4V520.5M523.0,521.4V519.6M524.0,521.4V519.2M525.0,521.4V520.5M526.0,521.4V514.0M527.0,521.4V517.1M528.0,520.4V520.5M529.0,521.4V509.9M530.0,521.4V512.6M531.0,520.9V515.6M532.0,521.4V518.2M533.0,519.4V516.2M534.0,521.4V517.9M535.0,521.4V520.5M536.0,519.7V520.5M537.0,521.2V518.2M538.0,519.5V517.8M540.0,521.4V516.8M541.0,521.4V520.0M542.0,521.4V519.7M543.0,521.0V512.0M544.0,521.4V512.6M546.0,521.4V519.0M548.0,521.4V520.2M549.0,521.4V520.4M566.0,521.4V507.0M567.0,521.4V509.9M568.0,521.4V515.9M570.0,521.0V504.2M572.0,521.4V514.2M573.0,519.3V516.4M574.0,521.4V515.5M575.0,521.4V517.7M578.0,520.8V516.4M580.0,521.4V516.2M582.0,521.4V516.3M583.0,521.4V519.6M585.0,520.8V508.1M586.0,521.4V510.5M587.0,519.3V512.4M589.0,521.4V518.0M590.0,521.4V515.7M591.0,521.4V518.7M592.0,520.8V517.4M593.0,521.4V516.7M594.0,521.4V511.7M595.0,521.4V512.9M597.0,521.4V517.1M600.0,519.7V516.2M601.0,521.4V516.6M602.0,521.4V517.6M604.0,521.4V520.2M605.0,521.4V519.7M606.0,521.4V520.5M608.0,521.4V512.8M611.0,521.2V508.2M612.0,520.5V511.7M614.0,521.4V513.4M615.0,521.4V516.2M616.0,521.4V516.8M617.0,520.1V516.4M619.0,521.4V516.8M620.0,521.4V517.0M622.0,521.4V516.4M625.0,521.4V518.0M626.0,521.4V516.6M627.0,521.4V516.1M628.0,521.4V512.2M629.0,521.4V513.9M630.0,521.4V518.0M632.0,519.7V518.8M635.0,521.4V514.7M636.0,521.4V517.5M638.0,521.4V520.3M640.0,521.4V515.5M642.0,521.4V514.2M643.0,521.4V516.3M644.0,521.4V519.1M645.0,519.3V513.5M648.0,521.4V516.6M649.0,521.4V519.8M650.0,521.4V515.4M651.0,519.6V518.3M652.0,521.4V511.9M654.0,521.4V516.9M656.0,520.3V514.3M657.0,521.4V517.1M659.0,521.4V513.7M660.0,520.7V513.5M662.0,520.4V512.7M663.0,521.4V518.7M665.0,521.4V515.7M667.0,521.4V512.0M668.0,521.4V520.5M670.0,519.2V515.7M671.0,521.4V518.4M672.0,521.4V514.8M673.0,521.4V519.8M674.0,521.4V510.3M675.0,519.5V513.1M676.0,521.4V515.0M677.0,521.4V515.4M679.0,521.4V518.6M680.0,521.4V518.8M681.0,521.4V513.4M682.0,519.5V518.8M683.0,521.4V514.4M684.0,521.4V517.3M687.0,521.4V518.2M688.0,521.4V517.1M689.0,521.4V514.3M691.0,521.4V513.2M694.0,520.0V515.7M695.0,521.4V517.0M696.0,519.6V515.9M697.0,521.4V516.5M698.0,521.4V516.4M702.0,519.0V514.6M704.0,521.4V516.6M705.0,521.4V514.4M708.0,520.3V516.9M709.0,521.4V513.6M710.0,521.4V510.8M711.0,521.4V513.8M712.0,521.3V517.9M714.0,519.1V520.0M715.0,521.4V514.3M716.0,521.4V516.0M717.0,519.0V515.1M718.0,521.4V518.8M720.0,521.4V517.0M721.0,521.4V515.1M722.0,518.9V519.7M723.0,520.4V514.4M726.0,521.4V514.6M727.0,521.4V514.9" stroke="#1b1b8f" stroke-width="1.05" fill="none"/>
<polyline points="430.5,504.8 430.5,518.6 430.9,495.0 431.3,495.0 431.6,495.0 432.0,495.0 432.4,495.0 432.8,513.3 433.2,509.5 433.5,509.5 433.9,509.5 434.3,509.5 434.7,517.1 435.1,520.3 435.4,516.9 435.8,516.0 436.2,521.6 436.6,521.6 437.0,521.5 437.3,502.5 437.7,502.5 438.1,502.5 438.5,502.5 438.9,521.2 439.2,521.2 439.6,521.2 440.0,519.5 440.4,521.8 440.8,521.8 441.1,521.8 441.5,518.0 441.9,518.0 442.3,518.0 442.7,511.7 443.0,511.7 443.4,511.7 443.8,511.7 444.2,507.8 444.6,507.8 444.9,507.8 445.3,507.8 445.7,521.4 446.1,507.5 446.5,507.5 446.8,507.5 447.2,507.5 447.6,520.8 448.0,520.8 448.4,520.8 448.7,517.9 449.1,515.5 449.5,518.7 449.9,521.5 450.3,521.5 450.6,517.1 451.0,521.6 451.4,520.4 451.8,520.4 452.2,520.4 452.5,519.2 452.9,521.7 453.3,521.7 453.7,519.7 454.1,520.2 454.4,515.2 454.8,520.9 455.2,521.4 455.6,521.9 456.0,521.3 456.3,516.2 456.7,516.1 457.1,521.3 457.5,521.3 457.9,519.1 458.2,521.1 458.6,518.5 459.0,505.7 459.4,505.7 459.8,505.7 460.1,505.7 460.5,521.2 460.9,503.5 461.3,503.5 461.7,503.5 462.0,503.5 462.4,521.3 462.8,521.3 463.2,521.4 463.6,520.4 463.9,517.2 464.3,517.2 464.7,520.8 465.1,521.9 465.5,521.6 465.8,518.9 466.2,518.9 466.6,515.7 467.0,515.3 467.4,517.9 467.7,498.2 468.1,498.2 468.5,498.2 468.9,498.2 469.3,517.7 469.6,515.5 470.0,519.2 470.4,504.9 470.8,499.3 471.2,499.3 471.5,499.3 471.9,499.3 472.3,518.2 472.7,521.3 473.1,508.9 473.4,508.9 473.8,508.9 474.2,508.9 474.6,521.4 475.0,521.4 475.3,521.4 475.7,521.4 476.1,521.8 476.5,521.8 476.9,505.4 477.2,505.4 477.6,505.4 478.0,505.4 478.4,521.6 478.8,521.6 479.1,521.6 479.5,521.0 479.9,521.0 480.3,521.0 480.7,521.0 481.0,521.8 481.4,515.8 481.8,511.3 482.2,511.3 482.6,511.3 482.9,498.2 483.3,498.2 483.7,498.2 484.1,498.2 484.5,521.5 484.8,521.5 485.2,521.3 485.6,521.3 486.0,521.3 486.4,521.3 486.7,510.7 487.1,510.7 487.5,510.7 487.9,510.7 488.3,521.0 488.6,518.6 489.0,518.6 489.4,515.2 489.8,518.0 490.2,517.4 490.5,517.4 490.9,518.1 491.3,515.5 491.7,521.8 492.1,521.8 492.4,521.8 492.8,516.0 493.2,489.7 493.6,489.7 494.0,489.7 494.3,489.7 494.7,515.5 495.1,519.8 495.5,515.3 495.9,520.4 496.2,495.0 496.6,495.0 497.0,495.0 497.4,495.0 497.8,495.0 498.1,506.1 498.5,516.0 498.9,513.9 499.3,515.0 499.7,515.0 500.0,517.6 500.4,521.6 500.8,516.5 501.2,520.1 501.6,520.1 501.9,520.1 502.3,517.3 502.7,518.6 503.1,518.6 503.5,520.8 503.8,520.8 504.2,520.8 504.6,517.6 505.0,504.2 505.4,504.2 505.7,504.2 506.1,504.2 506.5,521.9 506.9,519.4 507.3,521.7 507.6,521.7 508.0,512.0 508.4,512.0 508.8,512.0 509.2,512.0 509.5,518.7 509.9,515.4 510.3,521.4 510.7,520.1 511.1,520.1 511.4,520.1 511.8,515.3 512.2,522.0 512.6,522.0 513.0,522.0 513.3,522.0 513.7,522.0 514.1,522.0 514.5,521.5 514.9,515.5 515.2,521.2 515.6,521.2 516.0,515.6 516.4,515.6 516.8,515.6 517.1,515.9 517.5,517.5 517.9,517.7 518.3,519.6 518.7,510.1 519.0,510.1 519.4,510.1 519.8,510.1 520.2,519.4 520.6,519.4 520.9,521.2 521.3,521.2 521.7,518.3 522.1,518.3 522.5,519.6 522.8,517.8 523.2,521.7 523.6,517.0 524.0,520.4 524.4,520.4 524.7,521.5 525.1,497.2 525.5,497.2 525.9,497.2 526.3,497.2 526.6,522.0 527.0,515.5 527.4,515.5 527.8,517.5 528.2,490.8 528.5,490.8 528.9,490.8 529.3,490.8 529.7,490.8 530.1,521.4 530.4,521.4 530.8,505.0 531.2,505.0 531.6,505.0 532.0,505.0 532.3,514.1 532.7,522.0 533.1,519.9 533.5,515.7 533.9,515.7 534.2,515.7 534.6,516.5 535.0,516.1 535.4,520.0 535.8,516.3 536.1,516.3 536.5,516.3 536.9,505.7 537.3,505.7 537.7,505.7 538.0,505.7 538.4,521.4 538.8,521.4 539.2,521.4 539.6,521.7 539.9,518.7 540.3,518.7 540.7,518.7 541.1,521.8 541.5,521.8 541.8,490.8 542.2,490.8 542.6,490.8 543.0,490.8 543.4,509.2 543.7,514.6 544.1,503.5 544.5,503.5 544.9,503.5 545.3,503.5 545.6,503.5 546.0,509.7 546.4,509.7 546.8,509.7 547.2,509.7 547.5,509.7 547.9,518.1 548.3,518.1 548.7,518.9 549.1,516.2 549.4,486.0 549.8,486.0 550.2,486.0 550.6,486.0 551.0,486.0 551.3,486.0 551.7,486.0 552.1,486.0 552.5,486.0 552.9,486.0 553.2,486.0 553.6,486.0 554.0,486.0 554.4,486.0 554.8,486.0 555.1,486.0 555.5,486.0 555.9,486.0 556.3,487.5 556.7,487.5 557.0,487.5 557.4,487.5 557.8,486.0 558.2,486.0 558.6,486.0 558.9,486.0 559.3,486.0 559.7,486.0 560.1,486.0 560.5,486.0 560.8,486.0 561.2,486.0 561.6,486.0 562.0,486.0 562.4,486.0 562.7,514.7 563.1,510.1 563.5,510.1 563.9,473.4 564.3,473.4 564.6,473.4 565.0,473.4 565.4,498.3 565.8,498.3 566.2,498.3 566.5,505.9 566.9,507.7 567.3,507.7 567.7,521.4 568.1,511.5 568.4,521.3 568.8,479.4 569.2,479.4 569.6,479.4 570.0,479.4 570.3,479.4 570.7,500.4 571.1,500.4 571.5,505.1 571.9,505.1 572.2,509.7 572.6,521.3 573.0,512.3 573.4,514.5 573.8,521.4 574.1,507.8 574.5,507.8 574.9,507.8 575.3,507.8 575.7,498.3 576.0,498.3 576.4,498.3 576.8,498.3 577.2,521.2 577.6,518.2 577.9,518.2 578.3,516.6 578.7,516.6 579.1,516.6 579.5,490.4 579.8,490.4 580.2,490.4 580.6,490.4 581.0,508.7 581.4,508.7 581.7,521.8 582.1,521.3 582.5,516.7 582.9,514.1 583.3,514.1 583.6,512.3 584.0,480.5 584.4,480.5 584.8,480.5 585.2,480.5 585.5,480.5 585.9,514.7 586.3,507.4 586.7,507.4 587.1,507.4 587.4,507.4 587.8,521.7 588.2,521.8 588.6,521.8 589.0,518.7 589.3,518.7 589.7,511.8 590.1,511.8 590.5,511.8 590.9,511.8 591.2,511.8 591.6,516.3 592.0,521.9 592.4,494.3 592.8,494.3 593.1,494.3 593.5,494.3 593.9,494.3 594.3,505.7 594.7,511.0 595.0,511.9 595.4,511.9 595.8,517.1 596.2,513.9 596.6,512.7 596.9,512.7 597.3,512.7 597.7,495.6 598.1,495.6 598.5,495.6 598.8,495.6 599.2,507.6 599.6,507.6 600.0,514.0 600.4,514.0 600.7,511.7 601.1,511.7 601.5,512.5 601.9,521.7 602.3,521.7 602.6,510.7 603.0,514.7 603.4,517.8 603.8,521.1 604.2,521.9 604.5,521.9 604.9,521.9 605.3,521.9 605.7,483.1 606.1,483.1 606.4,483.1 606.8,483.1 607.2,508.3 607.6,509.4 608.0,506.5 608.3,518.8 608.7,515.9 609.1,512.9 609.5,510.0 609.9,510.6 610.2,489.9 610.6,489.9 611.0,489.9 611.4,489.9 611.8,504.4 612.1,504.4 612.5,521.4 612.9,521.4 613.3,514.5 613.7,514.5 614.0,511.8 614.4,511.8 614.8,521.9 615.2,521.9 615.6,515.9 615.9,515.5 616.3,515.5 616.7,514.5 617.1,514.5 617.5,512.5 617.8,521.8 618.2,506.5 618.6,506.5 619.0,506.5 619.4,506.5 619.7,522.0 620.1,497.0 620.5,497.0 620.9,497.0 621.3,497.0 621.6,513.1 622.0,522.0 622.4,521.6 622.8,510.1 623.2,510.1 623.5,510.1 623.9,515.3 624.3,519.6 624.7,503.0 625.1,503.0 625.4,503.0 625.8,503.0 626.2,515.9 626.6,515.0 627.0,515.0 627.3,493.0 627.7,493.0 628.1,493.0 628.5,493.0 628.9,516.4 629.2,520.7 629.6,504.4 630.0,504.4 630.4,504.4 630.8,504.4 631.1,514.6 631.5,521.2 631.9,516.3 632.3,521.3 632.7,521.3 633.0,521.9 633.4,503.4 633.8,503.4 634.2,503.4 634.6,503.4 634.9,521.7 635.3,514.1 635.7,514.1 636.1,514.1 636.5,518.0 636.8,515.0 637.2,522.0 637.6,522.0 638.0,521.9 638.4,513.8 638.7,502.6 639.1,502.6 639.5,490.4 639.9,490.4 640.3,490.4 640.6,490.4 641.0,520.8 641.4,511.1 641.8,515.6 642.2,515.6 642.5,505.4 642.9,505.4 643.3,505.4 643.7,505.4 644.1,516.3 644.4,512.7 644.8,512.1 645.2,504.0 645.6,504.0 646.0,504.0 646.3,504.0 646.7,515.2 647.1,521.2 647.5,516.7 647.9,521.2 648.2,521.8 648.6,521.7 649.0,519.2 649.4,519.2 649.8,519.9 650.1,519.9 650.5,518.0 650.9,495.1 651.3,495.1 651.7,495.1 652.0,495.1 652.4,521.7 652.8,521.7 653.2,521.7 653.6,521.7 653.9,521.1 654.3,509.2 654.7,509.2 655.1,509.2 655.5,509.2 655.8,509.2 656.2,521.7 656.6,512.0 657.0,501.4 657.4,501.4 657.7,501.4 658.1,501.4 658.5,501.4 658.9,511.4 659.3,511.4 659.6,521.8 660.0,512.1 660.4,512.9 660.8,505.8 661.2,505.8 661.5,505.8 661.9,505.8 662.3,518.4 662.7,514.5 663.1,514.5 663.4,521.9 663.8,521.5 664.2,521.5 664.6,494.3 665.0,494.3 665.3,494.3 665.7,494.3 666.1,508.5 666.5,515.2 666.9,515.2 667.2,515.2 667.6,522.0 668.0,521.0 668.4,521.7 668.8,520.7 669.1,518.4 669.5,518.4 669.9,503.0 670.3,503.0 670.7,503.0 671.0,503.0 671.4,515.7 671.8,521.7 672.2,521.7 672.6,521.7 672.9,490.4 673.3,490.4 673.7,490.4 674.1,490.4 674.5,508.6 674.8,521.8 675.2,521.8 675.6,521.3 676.0,521.3 676.4,521.3 676.7,513.2 677.1,513.2 677.5,513.2 677.9,507.4 678.3,507.4 678.6,507.4 679.0,507.4 679.4,520.4 679.8,520.4 680.2,499.6 680.5,499.6 680.9,499.6 681.3,499.6 681.7,512.2 682.1,512.2 682.4,515.9 682.8,512.4 683.2,516.3 683.6,516.3 684.0,515.0 684.3,521.4 684.7,521.4 685.1,510.5 685.5,510.5 685.9,515.1 686.2,518.0 686.6,502.1 687.0,502.1 687.4,502.1 687.8,502.1 688.1,502.1 688.5,514.2 688.9,516.9 689.3,489.9 689.7,489.9 690.0,489.9 690.4,489.9 690.8,509.5 691.2,509.5 691.6,509.5 691.9,513.2 692.3,515.7 692.7,515.7 693.1,511.4 693.5,511.4 693.8,514.9 694.2,521.4 694.6,521.4 695.0,521.8 695.4,519.1 695.7,501.4 696.1,501.4 696.5,501.4 696.9,501.4 697.3,511.7 697.6,521.8 698.0,513.1 698.4,515.3 698.8,515.3 699.2,521.9 699.5,512.3 699.9,510.8 700.3,513.7 700.7,521.3 701.1,509.8 701.4,514.6 701.8,508.6 702.2,508.6 702.6,508.6 703.0,508.6 703.3,508.6 703.7,494.3 704.1,494.3 704.5,494.3 704.9,494.3 705.2,502.6 705.6,502.6 706.0,502.6 706.4,512.0 706.8,512.0 707.1,512.0 707.5,512.0 707.9,512.0 708.3,513.3 708.7,513.3 709.0,513.3 709.4,510.0 709.8,522.0 710.2,522.0 710.6,513.1 710.9,513.1 711.3,521.6 711.7,514.3 712.1,514.3 712.5,511.1 712.8,512.7 713.2,512.7 713.6,513.4 714.0,502.8 714.4,502.8 714.7,502.8 715.1,502.8 715.5,502.8 715.9,509.8 716.3,509.8 716.6,518.6 717.0,518.6 717.4,518.6 717.8,518.6 718.2,515.0 718.5,515.0 718.9,520.5 719.3,520.5 719.7,521.2 720.1,521.2 720.4,521.2 720.8,521.2 721.2,518.8 721.6,518.8 722.0,512.5 722.3,509.8 722.7,507.2 723.1,507.2 723.5,507.2 723.9,487.8 724.2,487.8 724.6,487.8 725.0,487.8 725.4,487.8 725.8,514.4 726.1,512.4 726.5,498.3 726.9,498.3 727.3,498.3 727.7,498.3" stroke="#1b1b8f" stroke-width="2.4" stroke-linejoin="miter" stroke-linecap="butt" stroke-miterlimit="2"/>
<polyline points="429.9,522.3 430.5,522.6 431.1,522.3 431.7,521.3 432.3,521.1 432.9,520.8 433.5,521.0 434.1,520.4 434.7,520.5 435.3,519.1 435.9,520.4 436.5,519.5 437.1,519.8 437.7,519.4 438.3,519.3 438.9,519.7 439.5,519.9 440.1,519.4 440.7,519.4 441.3,519.8 441.9,519.1 442.5,518.8 443.1,519.7 443.7,519.2 444.3,518.6 444.9,519.1 445.5,519.3 446.1,519.0 446.7,518.8 447.3,519.5 447.9,520.0 448.5,519.5 449.1,519.3 449.7,519.8 450.3,520.0 450.9,519.6 451.5,520.0 452.1,520.3 452.7,519.7 453.3,519.5 453.9,520.1 454.5,520.0 455.1,520.5 455.7,519.4 456.3,519.7 456.9,519.7 457.5,519.3 458.1,520.2 458.7,520.4 459.3,519.9 459.9,520.9 460.5,520.6 461.1,520.6 461.7,520.5 462.3,520.8 462.9,519.8 463.5,520.7 464.1,520.8 464.7,519.7 465.3,520.7 465.9,520.5 466.5,520.8 467.1,520.0 467.7,519.9 468.3,519.8 468.9,519.0 469.5,519.4 470.1,518.8 470.7,518.8 471.3,518.1 471.9,518.5 472.5,517.9 473.1,517.1 473.7,517.1 474.3,516.9 474.9,516.7 475.5,514.8 476.1,515.4 476.7,514.8 477.3,514.5 477.9,514.0 478.5,514.9 479.1,513.8 479.7,515.1 480.3,516.0 480.9,515.1 481.5,516.2 482.1,516.3 482.7,517.5 483.3,518.5 483.9,519.3 484.5,518.0 485.1,519.1 485.7,519.8 486.3,520.1 486.9,519.6 487.5,519.0 488.1,519.4 488.7,519.3 489.3,519.1 489.9,518.9 490.5,519.3 491.1,519.2 491.7,519.0 492.3,518.9 492.9,518.4 493.5,518.7 494.1,519.5 494.7,518.8 495.3,518.2 495.9,519.4 496.5,519.0 497.1,519.7 497.7,518.7 498.3,518.4 498.9,517.9 499.5,519.1 500.1,519.7 500.7,517.9 501.3,517.8 501.9,518.1 502.5,517.2 503.1,517.2 503.7,516.9 504.3,516.9 504.9,517.1 505.5,516.4 506.1,516.5 506.7,515.7 507.3,515.8 507.9,514.4 508.5,514.5 509.1,515.2 509.7,514.4 510.3,514.7 510.9,514.4 511.5,514.6 512.1,514.2 512.7,514.2 513.3,513.5 513.9,513.1 514.5,513.0 515.1,512.9 515.7,512.5 516.3,512.6 516.9,512.7 517.5,512.7 518.1,512.3 518.7,511.4 519.3,512.1 519.9,512.1 520.5,512.3 521.1,512.0 521.7,511.4 522.3,511.5 522.9,512.8 523.5,512.4 524.1,513.1 524.7,513.3 525.3,512.2 525.9,512.9 526.5,513.0 527.1,513.2 527.7,513.4 528.3,513.4 528.9,513.5 529.5,512.9 530.1,513.6 530.7,513.5 531.3,514.1 531.9,513.9 532.5,514.4 533.1,514.4 533.7,514.1 534.3,514.0 534.9,513.8 535.5,513.5 536.1,513.5 536.7,513.2 537.3,513.5 537.9,513.3 538.5,513.4 539.1,512.5 539.7,513.4 540.3,512.5 540.9,512.5 541.5,512.6 542.1,512.3 542.7,512.6 543.3,512.3 543.9,512.1 544.5,512.2 545.1,513.2 545.7,512.7 546.3,512.2 546.9,512.8 547.5,512.1 548.1,513.6 548.7,512.2 549.3,513.1 549.9,513.2 550.5,512.3 551.1,513.2 551.7,513.5 552.3,513.3 552.9,513.0 553.5,513.0 554.1,512.4 554.7,512.3 555.3,511.2 555.9,509.9 556.5,507.6 557.1,505.7 557.7,502.2 558.3,499.0 558.9,496.7 559.5,493.9 560.1,490.0 560.7,486.9 561.3,485.0 561.9,482.1 562.5,479.8 563.1,477.4 563.7,473.9 564.3,472.6 564.9,469.3 565.5,466.6 566.1,463.5 566.7,460.6 567.3,458.1 567.9,456.0 568.5,453.8 569.1,451.0 569.7,449.4 570.3,446.7 570.9,443.8 571.5,444.2 572.1,443.7 572.7,442.7 573.3,442.4 573.9,441.9 574.5,440.6 575.1,439.8 575.7,439.7 576.3,439.2 576.9,438.7 577.5,438.8 578.1,438.7 578.7,437.3 579.3,437.4 579.9,437.0 580.5,436.5 581.1,436.2 581.7,434.9 582.3,434.7 582.9,434.5 583.5,433.2 584.1,431.8 584.7,431.6 585.3,431.1 585.9,429.9 586.5,428.7 587.1,428.9 587.7,426.9 588.3,427.6 588.9,427.7 589.5,427.4 590.1,428.8 590.7,428.7 591.3,428.3 591.9,429.4 592.5,429.2 593.1,428.9 593.7,429.7 594.3,430.4 594.9,430.9 595.5,430.9 596.1,431.2 596.7,431.7 597.3,431.5 597.9,432.1 598.5,431.6 599.1,431.6 599.7,431.6 600.3,430.9 600.9,431.0 601.5,431.9 602.1,431.4 602.7,431.0 603.3,431.3 603.9,430.9 604.5,431.2 605.1,430.7 605.7,431.1 606.3,430.2 606.9,431.4 607.5,430.6 608.1,430.6 608.7,431.8 609.3,432.3 609.9,433.0 610.5,433.0 611.1,434.2 611.7,436.2 612.3,434.6 612.9,435.7 613.5,435.6 614.1,436.0 614.7,435.2 615.3,435.7 615.9,436.6 616.5,436.6 617.1,437.5 617.7,436.6 618.3,437.2 618.9,438.6 619.5,437.1 620.1,437.2 620.7,437.7 621.3,437.9 621.9,438.5 622.5,437.7 623.1,436.7 623.7,436.7 624.3,437.3 624.9,436.1 625.5,433.8 626.1,434.5 626.7,433.6 627.3,433.8 627.9,432.9 628.5,433.4 629.1,432.4 629.7,431.9 630.3,431.1 630.9,430.5 631.5,430.1 632.1,430.1 632.7,429.2 633.3,428.3 633.9,428.9 634.5,428.5 635.1,428.6 635.7,428.4 636.3,428.7 636.9,428.8 637.5,428.0 638.1,429.9 638.7,429.8 639.3,429.6 639.9,430.3 640.5,430.2 641.1,430.4 641.7,429.3 642.3,430.7 642.9,431.4 643.5,432.3 644.1,432.7 644.7,432.9 645.3,432.1 645.9,432.0 646.5,433.7 647.1,433.8 647.7,434.6 648.3,434.5 648.9,435.0 649.5,434.6 650.1,435.8 650.7,435.8 651.3,436.5 651.9,436.9 652.5,436.6 653.1,436.6 653.7,436.2 654.3,436.4 654.9,436.0 655.5,435.4 656.1,435.1 656.7,436.0 657.3,435.0 657.9,435.2 658.5,434.8 659.1,434.1 659.7,433.9 660.3,434.0 660.9,433.9 661.5,433.9 662.1,432.8 662.7,432.9 663.3,432.9 663.9,433.5 664.5,431.5 665.1,432.6 665.7,432.2 666.3,432.8 666.9,432.4 667.5,432.9 668.1,433.5 668.7,433.0 669.3,433.1 669.9,433.2 670.5,432.8 671.1,433.4 671.7,433.2 672.3,433.0 672.9,433.3 673.5,432.7 674.1,432.6 674.7,431.8 675.3,431.0 675.9,431.4 676.5,430.7 677.1,430.3 677.7,429.5 678.3,429.0 678.9,429.0 679.5,429.1 680.1,429.8 680.7,429.5 681.3,428.9 681.9,429.7 682.5,429.1 683.1,429.9 683.7,429.4 684.3,429.5 684.9,430.2 685.5,430.3 686.1,429.6 686.7,430.8 687.3,431.6 687.9,430.0 688.5,431.6 689.1,430.2 689.7,430.0 690.3,429.9 690.9,429.1 691.5,430.0 692.1,429.4 692.7,428.5 693.3,428.5 693.9,427.7 694.5,427.9 695.1,428.2 695.7,426.7 696.3,427.0 696.9,427.4 697.5,427.9 698.1,428.1 698.7,427.4 699.3,427.4 699.9,428.0 700.5,427.7 701.1,427.9 701.7,428.6 702.3,429.0 702.9,428.4 703.5,428.3 704.1,428.8 704.7,427.8 705.3,428.7 705.9,428.4 706.5,430.0 707.1,429.4 707.7,429.4 708.3,429.5 708.9,428.7 709.5,430.3 710.1,431.0 710.7,430.1 711.3,431.0 711.9,431.2 712.5,430.4 713.1,431.8 713.7,432.2 714.3,431.9 714.9,432.0 715.5,432.6 716.1,431.8 716.7,432.7 717.3,433.4 717.9,432.6 718.5,433.8 719.1,432.8 719.7,431.5 720.3,431.9 720.9,431.0 721.5,431.1 722.1,429.9 722.7,430.4 723.3,429.1 723.9,428.9 724.5,426.6 725.1,424.9 725.7,423.8 726.3,421.5 726.9,419.4 727.5,417.2" stroke="#ff4500" stroke-width="2.5"/>
</g>
<rect x="415.3" y="5.6" width="327.3" height="521.6999999999999" fill="none" stroke="#a3a3a3" stroke-width="1.3"/>
<line x1="415.3" x2="742.6" y1="133.3" y2="133.3" stroke="#a3a3a3" stroke-width="1.3"/>
<line x1="415.3" x2="742.6" y1="272.4" y2="272.4" stroke="#a3a3a3" stroke-width="1.3"/>
<line x1="415.3" x2="742.6" y1="412.6" y2="412.6" stroke="#a3a3a3" stroke-width="1.3"/>
<g font-family="Liberation Sans, Arial, sans-serif">
<line x1="412.5" x2="415.3" y1="125.6" y2="125.6" stroke="#333" stroke-width="1"/>
<text transform="translate(410.8,128.2) scale(0.94,1)" font-size="7.3" fill="#262626" text-anchor="end">75</text>
<line x1="412.5" x2="415.3" y1="95.4" y2="95.4" stroke="#333" stroke-width="1"/>
<text transform="translate(410.8,98.0) scale(0.94,1)" font-size="7.3" fill="#262626" text-anchor="end">100</text>
<line x1="412.5" x2="415.3" y1="65.2" y2="65.2" stroke="#333" stroke-width="1"/>
<text transform="translate(410.8,67.8) scale(0.94,1)" font-size="7.3" fill="#262626" text-anchor="end">125</text>
<line x1="412.5" x2="415.3" y1="35.0" y2="35.0" stroke="#333" stroke-width="1"/>
<text transform="translate(410.8,37.6) scale(0.94,1)" font-size="7.3" fill="#262626" text-anchor="end">150</text>
<text transform="translate(399.4,69.5) rotate(-90)" font-size="9.5" fill="#222" text-anchor="middle">Seismic</text>
<line x1="412.5" x2="415.3" y1="268.7" y2="268.7" stroke="#333" stroke-width="1"/>
<text transform="translate(410.8,271.3) scale(0.94,1)" font-size="7.3" fill="#262626" text-anchor="end">0</text>
<line x1="412.5" x2="415.3" y1="230.8" y2="230.8" stroke="#333" stroke-width="1"/>
<text transform="translate(410.8,233.4) scale(0.94,1)" font-size="7.3" fill="#262626" text-anchor="end">50</text>
<line x1="412.5" x2="415.3" y1="192.8" y2="192.8" stroke="#333" stroke-width="1"/>
<text transform="translate(410.8,195.4) scale(0.94,1)" font-size="7.3" fill="#262626" text-anchor="end">100</text>
<line x1="412.5" x2="415.3" y1="154.9" y2="154.9" stroke="#333" stroke-width="1"/>
<text transform="translate(410.8,157.5) scale(0.94,1)" font-size="7.3" fill="#262626" text-anchor="end">150</text>
<text transform="translate(399.4,202.8) rotate(-90)" font-size="9.5" fill="#222" text-anchor="middle">Vessel</text>
<line x1="412.5" x2="415.3" y1="391.5" y2="391.5" stroke="#333" stroke-width="1"/>
<text transform="translate(410.8,394.1) scale(0.94,1)" font-size="7.3" fill="#262626" text-anchor="end">90</text>
<line x1="412.5" x2="415.3" y1="354.9" y2="354.9" stroke="#333" stroke-width="1"/>
<text transform="translate(410.8,357.5) scale(0.94,1)" font-size="7.3" fill="#262626" text-anchor="end">100</text>
<line x1="412.5" x2="415.3" y1="318.4" y2="318.4" stroke="#333" stroke-width="1"/>
<text transform="translate(410.8,321.0) scale(0.94,1)" font-size="7.3" fill="#262626" text-anchor="end">110</text>
<line x1="412.5" x2="415.3" y1="281.8" y2="281.8" stroke="#333" stroke-width="1"/>
<text transform="translate(410.8,284.4) scale(0.94,1)" font-size="7.3" fill="#262626" text-anchor="end">120</text>
<text transform="translate(399.4,342.5) rotate(-90)" font-size="9.5" fill="#222" text-anchor="middle">Pile Driving</text>
<line x1="412.5" x2="415.3" y1="522.4" y2="522.4" stroke="#333" stroke-width="1"/>
<text transform="translate(410.8,525.0) scale(0.94,1)" font-size="7.3" fill="#262626" text-anchor="end">0</text>
<line x1="412.5" x2="415.3" y1="484.1" y2="484.1" stroke="#333" stroke-width="1"/>
<text transform="translate(410.8,486.7) scale(0.94,1)" font-size="7.3" fill="#262626" text-anchor="end">5</text>
<line x1="412.5" x2="415.3" y1="445.8" y2="445.8" stroke="#333" stroke-width="1"/>
<text transform="translate(410.8,448.4) scale(0.94,1)" font-size="7.3" fill="#262626" text-anchor="end">10</text>
<text transform="translate(399.4,469.9) rotate(-90)" font-size="9.5" fill="#222" text-anchor="middle">Movement</text>
<line x1="481.5" x2="481.5" y1="527.3" y2="530.0999999999999" stroke="#333" stroke-width="1"/>
<text transform="translate(481.5,539.2) scale(0.94,1)" font-size="7.5" fill="#262626" text-anchor="middle">09:00</text>
<line x1="548.8" x2="548.8" y1="527.3" y2="530.0999999999999" stroke="#333" stroke-width="1"/>
<text transform="translate(548.8,539.2) scale(0.94,1)" font-size="7.5" fill="#262626" text-anchor="middle">12:00</text>
<line x1="616.1" x2="616.1" y1="527.3" y2="530.0999999999999" stroke="#333" stroke-width="1"/>
<text transform="translate(616.1,539.2) scale(0.94,1)" font-size="7.5" fill="#262626" text-anchor="middle">15:00</text>
<line x1="683.4" x2="683.4" y1="527.3" y2="530.0999999999999" stroke="#333" stroke-width="1"/>
<text transform="translate(683.4,539.2) scale(0.94,1)" font-size="7.5" fill="#262626" text-anchor="middle">18:00</text>
<text transform="translate(578.5,550.4) scale(0.93,1)" font-size="10" fill="#222" text-anchor="middle">Time</text>
</g>
<defs><clipPath id="cm"><rect x="11.5" y="3.5" width="378" height="528"/></clipPath><clipPath id="ci"><rect x="11.5" y="3.5" width="139.7" height="199.8"/></clipPath></defs>
<g clip-path="url(#cm)">
<polygon points="11.0,203.0 56.9,203.0 55.0,212.0 53.3,221.7 49.0,243.3 46.1,260.6 44.5,270.0 41.7,284.0 37.0,300.5 33.5,317.0 28.8,335.7 24.1,352.0 19.4,366.2 15.9,373.2 13.3,381.0 11.8,390.0 11.0,392.0" fill="#9d9d9d" stroke="none" stroke-width="1" />
<polygon points="159.5,227.5 223.0,227.5 392.0,353.5 392.0,535.0 159.5,535.0" fill="#f6f6f6" stroke="#bdbdbd" stroke-width="0.9" />
<polyline points="361.4,3.0 367.9,9.2 378.8,16.3 390.0,23.1" fill="none" stroke="#3280f5" stroke-width="1.9" stroke-linejoin="round" stroke-linecap="round" />
<polyline points="390.0,129.8 371.8,143.8 354.5,161.2 343.7,176.3 330.7,198.0 317.7,221.8 314.5,229.0 309.5,239.0 305.1,247.4 298.4,259.5 294.3,270.2 291.7,280.9 290.1,290.3 289.3,300.0 289.1,340.0 289.6,390.0 290.5,416.0 290.9,495.0 291.2,503.7 293.4,532.0" fill="none" stroke="#3280f5" stroke-width="1.9" stroke-linejoin="round" stroke-linecap="round" />
<polyline points="239.0,533.0 239.0,494.0 240.5,488.0 242.9,483.5 249.4,473.0 254.5,460.0 255.8,442.0 255.3,410.0 254.5,395.2 251.5,389.3 245.5,383.3 237.6,377.4 232.5,372.0 231.5,362.0 230.6,358.5 225.7,353.5 211.8,347.6 199.9,339.6 192.0,330.5 188.0,322.0 183.7,313.3 176.0,305.0 170.5,298.5 169.0,285.5 168.9,275.6 167.9,267.6 165.9,259.7 167.9,255.7 189.7,253.3 209.5,253.7 249.2,252.8 274.2,253.5 286.0,259.5 297.0,265.5 313.1,274.6 330.0,283.8 335.7,286.5 343.0,295.0 349.8,303.9 359.2,308.8 373.2,316.8 390.0,326.4" fill="none" stroke="#3280f5" stroke-width="1.9" stroke-linejoin="round" stroke-linecap="round" />
<path d="M248.3,512.3 C252,512.8 259,518 264,523 C267,526 266,528 262,526.5 C257,524 251,518 249.5,515.2 C248.6,513.3 251,513.6 254,515.5 C258,518 263,522.5 266.5,526.5 C268.2,528.5 266,529.5 263,528 C259,526 256,523.5 257.5,522.8 C259.5,522 265,527 268.3,530.5 M268.1,516.8 L268.1,531 M267.5,526.5 L286,519 L277.7,531.5" fill="none" stroke="#3280f5" stroke-width="1.5" stroke-linejoin="round" stroke-linecap="round" />
<polyline points="246.0,534.0 246.0,532.5 246.0,531.0 246.0,529.5 246.0,528.0 246.0,526.5 246.0,525.0 246.0,523.5 246.0,522.0 246.0,520.5 246.0,519.0 246.0,517.5 246.0,516.0 246.0,514.5 246.0,513.0 246.0,511.5 246.0,510.0 246.0,508.5 246.0,507.0 246.0,505.5 246.0,504.0 246.0,502.5 246.0,501.0 246.0,499.5" fill="none" stroke="#ff3a00" stroke-width="4.4" stroke-linecap="round" stroke-linejoin="round"/>
<polyline points="246.0,499.5 246.0,498.0 246.0,496.5 246.0,495.0 246.0,493.5 246.0,492.0 246.0,490.5 246.0,489.0 246.0,487.5 246.0,486.0 246.0,484.5 246.0,483.0 246.0,481.5 246.0,480.0 246.0,478.5 246.0,477.0 246.0,475.5 246.0,474.0" fill="none" stroke="#ff0000" stroke-width="4.4" stroke-linecap="round" stroke-linejoin="round"/>
<polyline points="246.0,474.0 246.0,472.5 246.0,471.0" fill="none" stroke="#a8d41e" stroke-width="4.4" stroke-linecap="round" stroke-linejoin="round"/>
<polyline points="246.0,471.0 246.0,469.5 246.0,468.0 246.0,466.5 246.0,465.0 246.0,463.4 246.0,461.9 246.0,460.4" fill="none" stroke="#ff0000" stroke-width="4.4" stroke-linecap="round" stroke-linejoin="round"/>
<polyline points="246.0,460.4 246.0,458.9" fill="none" stroke="#ff3a00" stroke-width="4.4" stroke-linecap="round" stroke-linejoin="round"/>
<polyline points="246.0,458.9 246.0,457.4 246.0,455.9 246.0,454.4 246.0,452.9 246.0,451.4 246.0,449.9 246.0,448.4 246.0,446.9 246.0,445.4 246.0,443.9 246.0,442.4 246.0,440.9 246.0,439.4 246.0,437.9" fill="none" stroke="#ff0000" stroke-width="4.4" stroke-linecap="round" stroke-linejoin="round"/>
<polyline points="246.0,437.9 246.0,436.4" fill="none" stroke="#ff3a00" stroke-width="4.4" stroke-linecap="round" stroke-linejoin="round"/>
<polyline points="246.0,436.4 246.0,434.9 246.0,433.4 246.0,431.9 246.0,430.4 246.0,428.9 246.0,427.4 246.0,425.9 246.0,424.4 246.0,422.9 246.0,421.4 246.0,419.9 246.0,418.4 246.0,416.9 246.0,415.4 246.0,413.9 246.0,412.4 246.0,410.9 246.0,409.4 246.0,407.9 246.0,406.4 246.0,404.9 246.0,403.4 246.0,401.9 246.0,400.4 246.0,398.9 246.0,397.4 246.1,395.9 246.1,394.4 246.1,392.9 246.1,391.4" fill="none" stroke="#ff0000" stroke-width="4.4" stroke-linecap="round" stroke-linejoin="round"/>
<polyline points="246.1,391.4 246.1,389.9" fill="none" stroke="#ff3a00" stroke-width="4.4" stroke-linecap="round" stroke-linejoin="round"/>
<polyline points="246.1,389.9 246.2,388.4 246.2,386.9 246.2,385.4 246.2,383.9 246.3,382.4 246.3,380.9 246.3,379.4 246.3,377.9 246.3,376.4 246.4,374.9 246.4,373.4 246.4,371.9 246.4,370.4 246.5,368.9" fill="none" stroke="#ff0000" stroke-width="4.4" stroke-linecap="round" stroke-linejoin="round"/>
<polyline points="246.5,368.9 246.5,367.4" fill="none" stroke="#ff3a00" stroke-width="4.4" stroke-linecap="round" stroke-linejoin="round"/>
<polyline points="246.5,367.4 246.5,365.9 246.3,364.4" fill="none" stroke="#ff0000" stroke-width="4.4" stroke-linecap="round" stroke-linejoin="round"/>
<polyline points="246.3,364.4 246.1,362.9 245.9,361.4 245.7,359.9 245.4,358.5 245.1,357.0 244.6,355.6 244.0,354.2" fill="none" stroke="#ff3a00" stroke-width="4.4" stroke-linecap="round" stroke-linejoin="round"/>
<polyline points="244.0,354.2 243.5,352.8" fill="none" stroke="#ff7800" stroke-width="4.4" stroke-linecap="round" stroke-linejoin="round"/>
<polyline points="243.5,352.8 242.9,351.4 242.0,350.2 241.1,349.0" fill="none" stroke="#f2f200" stroke-width="4.4" stroke-linecap="round" stroke-linejoin="round"/>
<polyline points="241.1,349.0 240.2,347.8 239.3,346.7 238.2,345.6" fill="none" stroke="#ffae00" stroke-width="4.4" stroke-linecap="round" stroke-linejoin="round"/>
<polyline points="238.2,345.6 237.2,344.5 236.1,343.4 235.1,342.4 234.0,341.3 232.9,340.3 231.8,339.2 230.6,338.4 229.3,337.6 228.0,336.8 226.8,336.0 225.5,335.2 224.2,334.5 222.9,333.7 221.6,332.9" fill="none" stroke="#ff7800" stroke-width="4.4" stroke-linecap="round" stroke-linejoin="round"/>
<polyline points="221.6,332.9 220.4,332.1 219.1,331.4 217.7,330.7" fill="none" stroke="#ffae00" stroke-width="4.4" stroke-linecap="round" stroke-linejoin="round"/>
<polyline points="217.7,330.7 216.4,330.0 215.0,329.4 213.7,328.7 212.4,328.0 211.0,327.3 209.7,326.6 208.3,326.0 207.0,325.3 205.6,324.6 204.3,324.0 203.0,323.3 201.6,322.6 200.3,322.0 198.9,321.3 197.6,320.6 196.2,320.0 194.9,319.3 193.5,318.6 192.2,318.0" fill="none" stroke="#ff7800" stroke-width="4.4" stroke-linecap="round" stroke-linejoin="round"/>
<polyline points="192.2,318.0 190.9,317.2 189.6,316.4 188.3,315.7 187.0,314.9 185.8,314.1 184.6,313.2 183.4,312.2 182.2,311.3 181.1,310.4 179.9,309.4 178.7,308.5 177.5,307.6 176.3,306.7 175.2,305.7 174.2,304.5 173.2,303.4" fill="none" stroke="#ff3a00" stroke-width="4.4" stroke-linecap="round" stroke-linejoin="round"/>
<polyline points="173.2,303.4 172.2,302.3 171.3,301.1 170.6,299.8 169.9,298.5 169.1,297.2 168.5,295.9 168.0,294.4 167.6,293.0 167.1,291.6 166.7,290.1 166.3,288.7 166.1,287.2 166.0,285.7 165.8,284.2 165.7,282.7 165.9,281.2 166.1,279.7 166.3,278.2 166.6,276.8 167.1,275.4 167.7,274.0 168.3,272.6 168.8,271.2 169.6,269.9 170.4,268.7 171.2,267.4 172.1,266.2 173.0,265.0 174.0,263.9 175.1,262.8 176.1,261.8" fill="none" stroke="#ff0000" stroke-width="4.4" stroke-linecap="round" stroke-linejoin="round"/>
<polyline points="176.1,261.8 177.2,260.7 178.4,259.7 179.5,258.7 180.6,257.7 181.7,256.7 182.9,255.8 184.1,255.0 185.4,254.1 186.6,253.2 187.8,252.4 189.0,251.5 190.3,250.8 191.7,250.2 193.1,249.7" fill="none" stroke="#ff3a00" stroke-width="4.4" stroke-linecap="round" stroke-linejoin="round"/>
<polyline points="193.1,249.7 194.5,249.1 195.9,248.6" fill="none" stroke="#ff7800" stroke-width="4.4" stroke-linecap="round" stroke-linejoin="round"/>
<polyline points="195.9,248.6 197.3,248.0 198.7,247.5 200.2,247.1 201.6,246.7 203.1,246.2 204.5,245.8 205.9,245.4 207.4,245.0 208.8,244.6" fill="none" stroke="#ff3a00" stroke-width="4.4" stroke-linecap="round" stroke-linejoin="round"/>
<polyline points="208.8,244.6 210.3,244.3 211.8,244.1" fill="none" stroke="#ff7800" stroke-width="4.4" stroke-linecap="round" stroke-linejoin="round"/>
<polyline points="211.8,244.1 213.3,243.9 214.8,243.6 216.2,243.4 217.7,243.2 219.2,243.0 220.7,242.9 222.2,242.8 223.7,242.7 225.2,242.7 226.7,242.6 228.2,242.6 229.7,242.5 231.2,242.6 232.7,242.6 234.2,242.7 235.7,242.8 237.2,242.8 238.7,242.9 240.2,243.0 241.7,243.0 243.2,243.1 244.7,243.2 246.2,243.3 247.7,243.5 249.2,243.6 250.7,243.8 252.2,243.9 253.7,244.0 255.2,244.2 256.7,244.3 258.1,244.7 259.5,245.1 261.0,245.5 262.4,245.9 263.9,246.3 265.3,246.8 266.8,247.2 268.1,247.7 269.5,248.4 270.8,249.0 272.2,249.7 273.5,250.4 274.9,251.0 276.2,251.7" fill="none" stroke="#ff3a00" stroke-width="4.4" stroke-linecap="round" stroke-linejoin="round"/>
<polyline points="276.2,251.7 277.5,252.5 278.8,253.2 280.1,254.0 281.4,254.7 282.7,255.5 284.0,256.2 285.3,256.9 286.6,257.7 288.0,258.3 289.3,259.0 290.7,259.7 292.0,260.3 293.4,261.0 294.7,261.7 296.1,262.3 297.4,263.0 298.7,263.7 300.0,264.5 301.3,265.2 302.7,265.9 304.0,266.6 305.3,267.4 306.6,268.1 307.9,268.8 309.2,269.6 310.5,270.3 311.8,271.1 313.1,271.8 314.4,272.6 315.7,273.4 317.0,274.2 318.2,274.9 319.5,275.7 320.8,276.5 322.1,277.3 323.4,278.0 324.7,278.8 326.0,279.5 327.3,280.2 328.7,280.9 330.0,281.6 331.3,282.4 332.5,283.2 333.8,284.0 335.0,284.8" fill="none" stroke="#ff7800" stroke-width="4.4" stroke-linecap="round" stroke-linejoin="round"/>
<polyline points="335.0,284.8 336.3,285.7 337.6,286.5" fill="none" stroke="#ff3a00" stroke-width="4.4" stroke-linecap="round" stroke-linejoin="round"/>
<polyline points="337.6,286.5 338.8,287.3 340.1,288.1 341.4,288.8 342.7,289.5" fill="none" stroke="#ff7800" stroke-width="4.4" stroke-linecap="round" stroke-linejoin="round"/>
<polyline points="342.7,289.5 344.0,290.2" fill="none" stroke="#ff3a00" stroke-width="4.4" stroke-linecap="round" stroke-linejoin="round"/>
<polyline points="344.0,290.2 345.4,291.0 346.7,291.7 348.0,292.4 349.3,293.1" fill="none" stroke="#ff7800" stroke-width="4.4" stroke-linecap="round" stroke-linejoin="round"/>
<polyline points="349.3,293.1 350.7,293.8 352.0,294.5" fill="none" stroke="#ff3a00" stroke-width="4.4" stroke-linecap="round" stroke-linejoin="round"/>
<polyline points="352.0,294.5 353.3,295.1 354.7,295.8 356.0,296.4 357.4,297.1" fill="none" stroke="#ff7800" stroke-width="4.4" stroke-linecap="round" stroke-linejoin="round"/>
<polyline points="357.4,297.1 358.8,297.7" fill="none" stroke="#ff3a00" stroke-width="4.4" stroke-linecap="round" stroke-linejoin="round"/>
<polyline points="358.8,297.7 360.1,298.4 361.5,299.0 362.8,299.7 364.2,300.3" fill="none" stroke="#ff7800" stroke-width="4.4" stroke-linecap="round" stroke-linejoin="round"/>
<polyline points="364.2,300.3 365.5,301.0" fill="none" stroke="#ff3a00" stroke-width="4.4" stroke-linecap="round" stroke-linejoin="round"/>
<polyline points="365.5,301.0 366.9,301.6 368.2,302.3 369.6,302.9 370.9,303.6" fill="none" stroke="#ff7800" stroke-width="4.4" stroke-linecap="round" stroke-linejoin="round"/>
<polyline points="370.9,303.6 372.3,304.2 373.6,304.9 375.0,305.5 376.4,306.2 377.7,306.8 379.1,307.4 380.4,308.1 381.8,308.7 383.1,309.4 384.5,310.0 385.9,310.7 387.2,311.3 388.6,311.9 389.9,312.6 391.3,313.2 392.6,313.9 394.0,314.5" fill="none" stroke="#ff3a00" stroke-width="4.4" stroke-linecap="round" stroke-linejoin="round"/>
<polygon points="335.7,285.1 360.3,287.0 355.5,293.0 392.0,309.6 392.0,316.6 353.0,300.0 351.0,304.6" fill="none" stroke="#333" stroke-width="0.8" stroke-linejoin="miter"/>
<polygon points="354.5,161.8 361.8,145.5 365.0,148.5 384.5,130.9 387.8,135.0 369.1,152.0 371.5,156.9" fill="none" stroke="#333" stroke-width="0.8" stroke-linejoin="miter"/>
<circle cx="176.6" cy="262.6" r="2.9" fill="#000"/>
<polyline points="92.2,244.1 91.4,245.3 90.5,246.5 89.0,246.8 87.5,247.1 86.1,247.4 84.6,247.7 83.1,248.0 81.7,248.3 80.2,248.6 78.7,248.9 77.2,249.2 75.8,249.5 74.4,249.9 73.8,251.3 73.2,252.6 72.2,253.8 71.3,254.9 70.3,256.1 69.4,257.3 68.7,258.6 67.9,259.9 67.2,261.2 66.5,262.5 66.0,264.0 65.6,265.4 65.1,266.8 64.6,268.3 64.3,269.7 63.9,271.2" fill="none" stroke="#ff0000" stroke-width="3.0" stroke-linecap="round" stroke-linejoin="round"/>
<polyline points="63.9,271.2 63.6,272.6 63.2,274.1 62.9,275.5 62.6,277.0" fill="none" stroke="#ff7800" stroke-width="3.0" stroke-linecap="round" stroke-linejoin="round"/>
<polyline points="62.6,277.0 62.3,278.5 62.0,280.0 61.7,281.4" fill="none" stroke="#ff0000" stroke-width="3.0" stroke-linecap="round" stroke-linejoin="round"/>
<polyline points="61.7,281.4 61.4,282.9 61.1,284.4 60.7,285.8 60.3,287.3 60.0,288.7 60.1,290.2 60.4,291.7 61.0,292.8 62.5,293.0 64.0,293.2 65.4,293.3 66.9,293.5 68.4,293.6" fill="none" stroke="#ff7800" stroke-width="3.0" stroke-linecap="round" stroke-linejoin="round"/>
<polyline points="68.4,293.6 69.9,293.7 71.4,293.8 72.9,293.9 74.4,294.0 75.9,294.1 77.4,294.1 78.9,294.2 80.4,294.3 81.9,294.4 83.4,294.5 84.9,294.6 86.4,294.7 87.9,294.7 89.4,294.8 90.9,294.9 92.4,295.1 93.9,295.2 95.4,295.3 96.9,295.4 98.4,295.6 99.9,295.7 101.4,295.8 102.9,295.9 104.4,296.1 105.9,296.2 107.4,296.3 108.9,296.4 110.4,296.6 111.9,296.7 113.3,296.8 114.8,296.9 116.3,297.1 117.8,297.2 119.3,297.3 120.8,297.5 122.3,297.2 123.7,296.6 124.8,295.7 126.0,294.7 127.2,294.0 128.6,293.4 130.0,292.8" fill="none" stroke="#ff0000" stroke-width="3.0" stroke-linecap="round" stroke-linejoin="round"/>
<polygon points="82.5,240.2 86.0,238.6 90.0,236.2 91.4,234.4 92.8,232.6 94.0,235.5 96.5,235.8 99.0,237.2 99.3,240.0 98.0,242.0 93.8,242.6 85.7,241.9" fill="#5db526" stroke="#5db526" stroke-width="1.2" stroke-linejoin="round"/>
<polygon points="93.5,238.5 96.5,236.2 99.5,236.8 101.0,239.5 100.0,242.5 96.0,243.6 93.0,242.0" fill="#f2f200" stroke="#f2f200" stroke-width="1.0" stroke-linejoin="round"/>
<polyline points="96.8,236.0 99.3,236.4 100.6,238.6 99.6,240.5 101.0,242.3" fill="none" stroke="#ff7800" stroke-width="1.7" stroke-linejoin="round" stroke-linecap="round" />
<polyline points="97.0,241.0 98.6,241.8" fill="none" stroke="#ffae00" stroke-width="1.5" stroke-linejoin="round" stroke-linecap="round" />
<polyline points="126.0,294.3 128.5,291.8 132.5,291.2 136.0,291.8 139.3,292.3 138.5,294.6 134.0,294.2 131.0,295.0" fill="none" stroke="#ff7800" stroke-width="2.6" stroke-linejoin="round" stroke-linecap="round" />
<polyline points="128.0,293.0 134.0,292.4" fill="none" stroke="#ff3a00" stroke-width="2.2" stroke-linejoin="round" stroke-linecap="round" />
<polyline points="131.7,296.5 132.6,297.7 133.5,299.0 134.0,300.4 134.3,301.9 134.5,303.4 133.7,304.6 132.5,305.5 131.2,306.2 129.7,306.5" fill="none" stroke="#a8d41e" stroke-width="2.8" stroke-linecap="round" stroke-linejoin="round"/>
<polyline points="129.7,306.5 128.2,306.8 126.6,307.1 125.1,307.4" fill="none" stroke="#5db526" stroke-width="2.8" stroke-linecap="round" stroke-linejoin="round"/>
<polyline points="125.1,307.4 123.6,307.6 122.1,307.7 120.5,307.9" fill="none" stroke="#a8d41e" stroke-width="2.8" stroke-linecap="round" stroke-linejoin="round"/>
<polyline points="120.5,307.9 119.0,308.0 117.4,308.1 115.9,308.1" fill="none" stroke="#5db526" stroke-width="2.8" stroke-linecap="round" stroke-linejoin="round"/>
<polyline points="115.9,308.1 114.4,308.1 112.8,308.2 111.3,308.2 109.7,308.2 108.2,308.3 106.6,308.3 105.1,308.3" fill="none" stroke="#a8d41e" stroke-width="2.8" stroke-linecap="round" stroke-linejoin="round"/>
<polyline points="128.7,309.8 127.6,310.9 126.5,312.0 125.3,313.0 123.9,313.5" fill="none" stroke="#a8d41e" stroke-width="2.6" stroke-linecap="round" stroke-linejoin="round"/>
<polyline points="123.9,313.5 122.4,314.1 120.9,314.6 120.3,315.1 121.8,315.6 123.3,316.1 124.8,316.6 126.3,316.9 127.9,317.0 129.4,317.0 131.0,317.1 132.6,317.1 134.1,317.2 135.7,317.2 137.3,317.3 138.8,317.4 140.4,317.5 141.9,317.5 143.5,317.6" fill="none" stroke="#f2f200" stroke-width="2.6" stroke-linecap="round" stroke-linejoin="round"/>
<polyline points="126.5,311.5 127.5,310.5" fill="none" stroke="#ff7800" stroke-width="2.2" stroke-linejoin="round" stroke-linecap="round" />
<polygon points="68.3,293.3 88.9,286.2 89.2,292.1 121.4,294.3 121.6,301.3 88.6,298.8 88.2,304.2" fill="none" stroke="#333" stroke-width="0.8" stroke-linejoin="miter"/>
<circle cx="113.1" cy="296.8" r="2.8" fill="#000"/>
<polygon points="36.1,290.9 30.5,301.2 41.6,301.2" fill="#1a6cff" stroke="none" stroke-width="1" />
</g>
<g font-family="Liberation Sans, Arial, sans-serif">
<text transform="translate(97.3,228.0) scale(0.86,1)" font-size="10.0" fill="#1a1a1a" font-weight="bold" text-anchor="middle" stroke="#1a1a1a" stroke-width="0.35">20:00</text>
<text transform="translate(74.3,277.8) scale(0.88,1)" font-size="10.1" fill="#2e2e2e" font-weight="normal" text-anchor="start" >Gray Whale</text>
<text transform="translate(144.6,327.0) scale(0.86,1)" font-size="10.0" fill="#1a1a1a" font-weight="bold" text-anchor="start" stroke="#1a1a1a" stroke-width="0.35">6:41</text>
<text x="18.9" y="298.9" font-size="6.8" fill="#1a1a1a" font-weight="bold" text-anchor="start" stroke="#1a1a1a" stroke-width="0.25">12</text>
<text transform="translate(197.4,311.4) rotate(32.9) scale(0.92,1)" font-size="10.2" fill="#2e2e2e">Seismic Vessel</text>
<text transform="translate(299.8,394.3) rotate(-90) scale(0.92,1)" font-size="9.8" fill="#2e2e2e">Support Vessel</text>
</g>
<rect x="11.5" y="3.5" width="139.7" height="199.8" fill="#fff"/>
<g clip-path="url(#ci)">
<polygon points="10.0,3.0 20.8,3.0 20.2,12.7 18.9,25.3 17.0,38.0 15.1,48.1 12.6,57.0 11.0,60.0 10.0,60.0" fill="#9d9d9d" stroke="none" stroke-width="1" />
<ellipse cx="12.8" cy="24.9" rx="1.3" ry="2" fill="#8fd0ff"/>
<polygon points="30.8,35.8 46.0,35.8 63.3,54.1 94.8,54.1 98.7,3.0 153.0,3.0 153.0,138.7 114.3,138.7 114.3,120.8 75.5,120.8 30.8,95.5" fill="#f6f6f6" stroke="#bdbdbd" stroke-width="0.8" />
<polyline points="50.5,3.0 71.8,18.5 82.3,25.7" fill="none" stroke="#3280f5" stroke-width="1.8" stroke-linejoin="round" stroke-linecap="round" />
<polyline points="84.2,3.0 84.0,24.5 82.3,25.7" fill="none" stroke="#3280f5" stroke-width="1.8" stroke-linejoin="round" stroke-linecap="round" />
<polyline points="82.3,25.7 96.9,26.6 99.5,28.6 98.8,39.0 96.9,54.6 96.5,62.0 100.0,68.0 106.0,73.0 112.5,79.5 113.1,107.4" fill="none" stroke="#3280f5" stroke-width="1.8" stroke-linejoin="round" stroke-linecap="round" />
<polyline points="56.6,123.8 54.0,119.9 48.8,116.0 48.1,113.4 48.1,100.0 47.5,60.0 47.6,44.0 49.0,36.5 51.6,30.0 54.1,26.5 60.6,20.9 68.6,18.1 80.0,16.9 93.0,17.5 103.4,20.8 111.2,27.3 115.1,33.8 113.8,41.6 111.2,52.0 111.8,58.5 115.1,65.0 119.0,71.7 125.5,76.9 126.1,108.1" fill="none" stroke="#3280f5" stroke-width="1.8" stroke-linejoin="round" stroke-linecap="round" />
<polyline points="74.2,22.5 68.0,28.0 62.2,33.8" fill="none" stroke="#3280f5" stroke-width="1.8" stroke-linejoin="round" stroke-linecap="round" />
<polyline points="60.9,50.7 65.7,53.9 72.2,56.7 80.2,60.7 88.3,64.8 96.3,68.0 100.0,68.8" fill="none" stroke="#3280f5" stroke-width="1.8" stroke-linejoin="round" stroke-linecap="round" />
<polyline points="63.0,30.6 60.6,35.4 63.8,35.4 62.3,40.0 61.3,49.5 61.3,80.0 61.2,100.0 60.5,114.7 63.0,117.0 69.6,123.8 67.0,122.5 59.2,113.4 55.3,113.4 54.0,116.0 55.3,118.6 55.3,144.6" fill="none" stroke="#3280f5" stroke-width="1.8" stroke-linejoin="round" stroke-linecap="round" />
<polyline points="122.9,16.9 119.0,26.0 115.1,35.1 109.9,45.5 104.7,55.9 99.5,67.6 96.9,72.0 87.0,103.0 76.1,129.0 64.4,157.6 58.0,170.0 53.7,178.4 45.7,192.3 46.7,198.3 49.7,205.0" fill="none" stroke="#3280f5" stroke-width="1.8" stroke-linejoin="round" stroke-linecap="round" />
<polyline points="111.2,3.0 112.5,9.1 117.7,14.3 125.5,16.9 134.6,16.2 142.4,13.0 145.0,7.8 144.3,3.0" fill="none" stroke="#3280f5" stroke-width="1.8" stroke-linejoin="round" stroke-linecap="round" />
<polyline points="122.2,3.0 122.2,16.9" fill="none" stroke="#3280f5" stroke-width="1.8" stroke-linejoin="round" stroke-linecap="round" />
<polyline points="126.8,3.0 134.6,12.3 137.8,7.8 137.5,3.0" fill="none" stroke="#3280f5" stroke-width="1.8" stroke-linejoin="round" stroke-linecap="round" />
<polyline points="44.9,96.5 59.2,90.0 80.0,78.0 98.2,69.7 106.0,67.6 119.0,65.2 129.4,58.5 130.2,55.0 129.5,52.5 130.5,51.5" fill="none" stroke="#3280f5" stroke-width="1.8" stroke-linejoin="round" stroke-linecap="round" />
<polyline points="124.2,69.7 129.4,67.8 130.7,71.0 124.2,69.7" fill="none" stroke="#3280f5" stroke-width="1.8" stroke-linejoin="round" stroke-linecap="round" />
<polyline points="130.7,71.0 152.0,69.1" fill="none" stroke="#3280f5" stroke-width="1.8" stroke-linejoin="round" stroke-linecap="round" />
<polyline points="132.0,73.2 152.0,72.5" fill="none" stroke="#3280f5" stroke-width="1.8" stroke-linejoin="round" stroke-linecap="round" />
<polyline points="133.3,80.0 133.5,77.5 150.0,77.5" fill="none" stroke="#3280f5" stroke-width="1.8" stroke-linejoin="round" stroke-linecap="round" />
<polyline points="47.0,60.0 47.0,74.0 56.2,82.4 57.2,90.0 57.2,103.0" fill="none" stroke="#3280f5" stroke-width="1.8" stroke-linejoin="round" stroke-linecap="round" />
<polyline points="33.0,80.0 46.0,82.5 51.5,79.0" fill="none" stroke="#3280f5" stroke-width="1.8" stroke-linejoin="round" stroke-linecap="round" />
<polyline points="33.0,84.5 44.0,86.0 51.0,80.5" fill="none" stroke="#3280f5" stroke-width="1.8" stroke-linejoin="round" stroke-linecap="round" />
<polyline points="37.0,80.5 35.5,84.0" fill="none" stroke="#3280f5" stroke-width="1.8" stroke-linejoin="round" stroke-linecap="round" />
<polyline points="30.0,108.2 30.6,121.2 37.7,120.5" fill="none" stroke="#3280f5" stroke-width="1.8" stroke-linejoin="round" stroke-linecap="round" />
<polyline points="30.6,121.2 32.0,124.0 39.0,126.0" fill="none" stroke="#3280f5" stroke-width="1.8" stroke-linejoin="round" stroke-linecap="round" />
<polyline points="39.0,97.8 39.0,132.9 39.5,135.5 42.9,140.0 47.0,143.0" fill="none" stroke="#3280f5" stroke-width="1.8" stroke-linejoin="round" stroke-linecap="round" />
<polyline points="56.6,123.8 67.0,127.0 87.0,129.0 105.3,134.7 115.3,142.7 118.2,150.6 115.3,160.5 103.3,166.5 85.5,170.1 69.6,169.5 57.7,168.5 49.7,165.0 44.9,162.0 34.5,153.7" fill="none" stroke="#3280f5" stroke-width="1.8" stroke-linejoin="round" stroke-linecap="round" />
<polyline points="73.6,129.8 93.4,137.7 105.3,148.6 105.3,156.6 97.4,162.5 85.5,169.5" fill="none" stroke="#3280f5" stroke-width="1.8" stroke-linejoin="round" stroke-linecap="round" />
<polyline points="22.8,155.0 35.8,162.5 45.0,168.5 53.7,174.4 58.0,177.0" fill="none" stroke="#3280f5" stroke-width="1.8" stroke-linejoin="round" stroke-linecap="round" />
<polyline points="95.4,205.0 104.0,186.0 113.3,168.5" fill="none" stroke="#3280f5" stroke-width="1.8" stroke-linejoin="round" stroke-linecap="round" />
<polyline points="111.3,169.5 113.3,168.5 118.2,168.5" fill="none" stroke="#3280f5" stroke-width="1.8" stroke-linejoin="round" stroke-linecap="round" />
<polyline points="115.5,170.5 119.0,176.0 123.2,182.4" fill="none" stroke="#3280f5" stroke-width="1.8" stroke-linejoin="round" stroke-linecap="round" />
<polyline points="20.4,38.4 19.2,39.4" fill="none" stroke="#ff0000" stroke-width="2.9" stroke-linecap="round" stroke-linejoin="round"/>
<polyline points="19.2,39.4 18.3,40.6 17.8,42.0 17.8,43.6 19.3,43.8 20.9,43.9" fill="none" stroke="#ff3a00" stroke-width="2.9" stroke-linecap="round" stroke-linejoin="round"/>
<polyline points="20.9,43.9 22.4,43.9 24.0,43.8 25.5,43.7 27.1,43.6 28.6,43.9 30.1,44.3" fill="none" stroke="#ff0000" stroke-width="2.9" stroke-linecap="round" stroke-linejoin="round"/>
<polyline points="21.8,37.0 22.8,36.0" fill="none" stroke="#5db526" stroke-width="2.9" stroke-linejoin="round" stroke-linecap="round" />
<polyline points="25.6,46.6 28.6,47.2" fill="none" stroke="#f2f200" stroke-width="2.9" stroke-linejoin="round" stroke-linecap="round" />
<polyline points="30.1,44.3 30.4,42.8 30.9,41.4 31.7,40.2 32.9,39.2 34.1,38.3 35.4,37.6 36.9,37.3 38.3,36.9 39.8,36.5 41.3,36.7" fill="none" stroke="#ff0000" stroke-width="2.9" stroke-linecap="round" stroke-linejoin="round"/>
<polyline points="41.3,36.7 42.8,36.9 44.3,37.1 45.6,37.8 46.9,38.6 48.2,39.4" fill="none" stroke="#ff3a00" stroke-width="2.9" stroke-linecap="round" stroke-linejoin="round"/>
<polyline points="48.2,39.4 49.4,40.3 50.7,41.1 52.0,41.9 53.2,42.8" fill="none" stroke="#ff7800" stroke-width="2.9" stroke-linecap="round" stroke-linejoin="round"/>
<polyline points="53.2,42.8 54.5,43.6" fill="none" stroke="#ff3a00" stroke-width="2.9" stroke-linecap="round" stroke-linejoin="round"/>
<polyline points="54.5,43.6 55.7,44.4 57.1,45.2 58.4,45.9" fill="none" stroke="#ff7800" stroke-width="2.9" stroke-linecap="round" stroke-linejoin="round"/>
<polyline points="58.4,45.9 59.7,46.7" fill="none" stroke="#ff3a00" stroke-width="2.9" stroke-linecap="round" stroke-linejoin="round"/>
<polyline points="59.7,46.7 61.0,47.4 62.3,48.2 63.6,48.9" fill="none" stroke="#ff7800" stroke-width="2.9" stroke-linecap="round" stroke-linejoin="round"/>
<polyline points="63.6,48.9 64.9,49.7" fill="none" stroke="#ff3a00" stroke-width="2.9" stroke-linecap="round" stroke-linejoin="round"/>
<polyline points="64.9,49.7 66.2,50.4 67.6,51.2 68.9,51.9" fill="none" stroke="#ff7800" stroke-width="2.9" stroke-linecap="round" stroke-linejoin="round"/>
<polyline points="68.9,51.9 70.2,52.7 71.5,53.4 72.8,54.2 74.1,54.9 75.5,55.5 76.9,56.2" fill="none" stroke="#ffae00" stroke-width="2.9" stroke-linecap="round" stroke-linejoin="round"/>
<polyline points="76.9,56.2 78.2,56.8 79.6,57.5 81.0,58.1 82.3,58.8 83.5,59.7 84.8,60.5" fill="none" stroke="#f2f200" stroke-width="2.9" stroke-linecap="round" stroke-linejoin="round"/>
<polyline points="84.8,60.5 86.1,61.3 87.4,62.1 88.7,62.9 90.0,63.6 91.3,64.4 92.6,65.2 93.9,65.9 95.2,66.7 96.5,67.5" fill="none" stroke="#a8d41e" stroke-width="2.9" stroke-linecap="round" stroke-linejoin="round"/>
<polyline points="96.5,67.5 97.8,68.3 99.1,69.0 100.4,69.8 101.7,70.6 103.0,71.4 104.3,72.2 105.5,73.0 106.8,73.8 108.1,74.6 109.4,75.4 110.7,76.2 111.9,77.0 113.2,77.8 114.5,78.6 115.8,79.4 117.1,80.1 118.5,80.8 119.9,81.4 121.2,82.1 122.6,82.7 124.0,83.4 125.3,84.0 126.7,84.7 128.0,85.3 129.4,86.0" fill="none" stroke="#5db526" stroke-width="2.9" stroke-linecap="round" stroke-linejoin="round"/>
<polyline points="129.4,86.0 130.7,84.7 134.6,80.8 141.1,79.5 147.6,82.1 149.5,86.0 146.3,89.9 138.5,90.5 132.0,87.9 129.4,86.0" fill="none" stroke="#5db526" stroke-width="2.9" stroke-linejoin="round" stroke-linecap="round" />
<polyline points="131.3,87.3 131.3,88.9 131.3,90.4 131.3,92.0 131.3,93.5 131.3,95.1 131.3,96.7 131.3,98.2 131.3,99.8 131.3,101.3 131.3,102.9 131.3,104.5 131.3,106.0 131.3,107.6 131.3,109.1 131.3,110.7" fill="none" stroke="#a8d41e" stroke-width="2.9" stroke-linecap="round" stroke-linejoin="round"/>
<polyline points="31.4,44.3 32.4,45.5 33.4,46.6 34.3,47.8 35.5,48.7 36.8,49.4 38.1,50.2 39.4,51.0 40.3,52.2" fill="none" stroke="#ff7800" stroke-width="2.9" stroke-linecap="round" stroke-linejoin="round"/>
<polyline points="40.3,52.2 41.2,53.4 41.2,54.9 41.2,56.4 41.2,57.9 41.2,59.4 41.2,61.0 41.2,62.5 41.2,64.0 41.2,65.5 41.2,67.0 41.1,68.5 41.1,70.0 41.1,71.5 41.1,73.0 41.1,74.5 41.1,76.1 41.1,77.6 41.1,79.1 41.0,80.6 41.0,82.1 41.0,83.6 41.0,85.1" fill="none" stroke="#ff0000" stroke-width="2.9" stroke-linecap="round" stroke-linejoin="round"/>
<polyline points="41.0,85.1 41.0,86.6 41.0,88.1 41.0,89.6 41.0,91.2 41.0,92.7" fill="none" stroke="#ff7800" stroke-width="2.9" stroke-linecap="round" stroke-linejoin="round"/>
<polyline points="41.0,92.7 41.0,94.2 41.0,95.7 41.0,97.2" fill="none" stroke="#ffae00" stroke-width="2.9" stroke-linecap="round" stroke-linejoin="round"/>
<polyline points="41.0,97.2 41.0,98.7 41.0,100.2 41.0,101.7 41.0,103.2 41.0,104.7 41.0,106.3 41.0,107.8 41.0,109.3 41.0,110.8 41.0,112.3 41.0,113.8 41.0,115.3 41.0,116.8" fill="none" stroke="#f2f200" stroke-width="2.9" stroke-linecap="round" stroke-linejoin="round"/>
<polyline points="41.0,116.8 41.0,118.3 41.0,119.8 41.0,121.4 41.0,122.9 41.0,124.4 41.0,125.9" fill="none" stroke="#ff7800" stroke-width="2.9" stroke-linecap="round" stroke-linejoin="round"/>
<polyline points="41.0,125.9 41.0,127.4 41.0,128.9 41.8,130.1 42.8,131.3 43.7,132.5 44.6,133.8 45.5,135.0 46.4,136.2 47.3,137.4 48.2,138.6 49.1,139.8 50.1,140.9 51.1,142.1 52.1,143.2 53.1,144.4 54.0,145.5 55.0,146.7 56.0,147.8 56.9,149.0 57.8,150.2 58.7,151.4 59.6,152.7 60.5,153.9 61.3,155.1 62.2,156.4 63.1,157.6 64.1,158.7 65.2,159.8 66.2,160.9 67.2,162.0 68.3,163.1 69.3,164.2 70.3,165.3 71.2,166.5 72.1,167.7 73.1,168.9 74.0,170.1 74.9,171.3 75.7,172.6 76.0,174.0 76.2,175.5 75.8,177.0 75.5,178.4 74.1,179.1 72.8,179.8 71.4,180.5 70.1,181.2 68.6,181.5 67.2,181.7 65.7,182.0" fill="none" stroke="#a8d41e" stroke-width="2.9" stroke-linecap="round" stroke-linejoin="round"/>
<polyline points="65.7,182.0 64.2,182.2 62.7,182.4 61.4,181.7 60.0,180.9 58.7,180.2 57.4,179.4 56.1,178.6 54.9,177.8" fill="none" stroke="#5db526" stroke-width="2.9" stroke-linecap="round" stroke-linejoin="round"/>
<polyline points="54.9,177.8 53.6,177.0 52.3,176.2 51.1,175.3 49.8,174.5 48.6,173.7 47.3,172.8 46.0,172.0" fill="none" stroke="#3f9e1c" stroke-width="2.9" stroke-linecap="round" stroke-linejoin="round"/>
<polyline points="46.0,172.0 44.8,171.2 43.5,170.3 42.3,169.4 41.1,168.5 39.9,167.7 38.6,166.8 37.4,165.9 36.2,165.0 35.0,164.1 33.7,163.3 32.5,162.4 31.3,161.5 30.1,160.6 28.8,159.8 27.5,159.0" fill="none" stroke="#a8d41e" stroke-width="2.9" stroke-linecap="round" stroke-linejoin="round"/>
</g>
<g font-family="Liberation Sans, Arial, sans-serif">
<text transform="translate(28.1,154.4) scale(0.88,1)" font-size="9.8" fill="#1a1a1a" font-weight="bold" text-anchor="middle" stroke="#1a1a1a" stroke-width="0.3">20:00</text>
<text transform="translate(130.9,121.6) scale(0.86,1)" font-size="9.8" fill="#1a1a1a" font-weight="bold" text-anchor="middle" stroke="#1a1a1a" stroke-width="0.3">6:41</text>
</g>
<rect x="11.5" y="3.5" width="139.7" height="199.8" fill="none" stroke="#2a2a2a" stroke-width="1.3"/>
<g font-family="Liberation Sans, Arial, sans-serif">
<rect x="224.6" y="5.2" width="26.1" height="13.1" fill="#f6f6f6" stroke="#c8c8c8" stroke-width="0.9"/>
<line x1="224.6" x2="250.7" y1="30" y2="30" stroke="#3280f5" stroke-width="1.5"/>
<polygon points="237.3,43.4 232.0,52.7 242.6,52.7" fill="#1a6cff" stroke="none" stroke-width="1" />
<circle cx="237.3" cy="65.4" r="2.4" fill="#000"/>
<text transform="translate(255.1,15.9) scale(0.9,1)" font-size="10.4" fill="#262626" font-weight="normal" text-anchor="start" >Seismic Block</text>
<text transform="translate(255.1,33.4) scale(0.9,1)" font-size="10.4" fill="#262626" font-weight="normal" text-anchor="start" >Vessel</text>
<text transform="translate(255.1,51.2) scale(0.9,1)" font-size="10.4" fill="#262626" font-weight="normal" text-anchor="start" >Shore Based Station</text>
<text transform="translate(255.1,69.1) scale(0.9,1)" font-size="10.4" fill="#262626" font-weight="normal" text-anchor="start" >Point of Max Exposure</text>
<text transform="translate(225.4,88.2) scale(0.915,1)" font-size="12.2" font-weight="bold" fill="#1a1a1a" stroke="#1a1a1a" stroke-width="0.25">Seismic Exposure (SEL<tspan font-size="8" dy="1.8">30sec</tspan><tspan dy="-1.8">)</tspan></text>
<circle cx="236.8" cy="101.4" r="1.5" fill="#3f9e1c"/>
<text transform="translate(254.9,105.1) scale(0.9,1)" font-size="10.4" fill="#262626" font-weight="normal" text-anchor="start" >&lt; 83.4</text>
<circle cx="236.8" cy="119.4" r="1.5" fill="#5db526"/>
<text transform="translate(254.9,123.1) scale(0.9,1)" font-size="10.4" fill="#262626" font-weight="normal" text-anchor="start" >83.4 - 97.0</text>
<circle cx="236.8" cy="137.4" r="1.5" fill="#a8d41e"/>
<text transform="translate(254.9,141.1) scale(0.9,1)" font-size="10.4" fill="#262626" font-weight="normal" text-anchor="start" >97.0 - 104.3</text>
<circle cx="236.8" cy="155.4" r="1.5" fill="#f2f200"/>
<text transform="translate(254.9,159.1) scale(0.9,1)" font-size="10.4" fill="#262626" font-weight="normal" text-anchor="start" >104.3 - 110.6</text>
<circle cx="236.8" cy="173.4" r="1.5" fill="#ffae00"/>
<text transform="translate(254.9,177.1) scale(0.9,1)" font-size="10.4" fill="#262626" font-weight="normal" text-anchor="start" >110.6 - 116.6</text>
<circle cx="236.8" cy="191.4" r="1.5" fill="#ff7800"/>
<text transform="translate(254.9,195.1) scale(0.9,1)" font-size="10.4" fill="#262626" font-weight="normal" text-anchor="start" >116.6 - 122.4</text>
<circle cx="236.8" cy="209.4" r="1.5" fill="#ff3a00"/>
<text transform="translate(254.9,213.1) scale(0.9,1)" font-size="10.4" fill="#262626" font-weight="normal" text-anchor="start" >122.4 - 128.3</text>
<circle cx="236.8" cy="227.4" r="1.5" fill="#ff0000"/>
<text transform="translate(254.9,231.1) scale(0.9,1)" font-size="10.4" fill="#262626" font-weight="normal" text-anchor="start" >128.3 - 135.3</text>
</g>
<g stroke="#333" stroke-width="0.9">
<line x1="16.6" x2="136.4" y1="520.4" y2="520.4"/>
<line x1="16.6" x2="16.6" y1="516.2" y2="524.8"/>
<line x1="31.6" x2="31.6" y1="517" y2="523.6"/>
<line x1="46.5" x2="46.5" y1="517" y2="523.6"/>
<line x1="61.5" x2="61.5" y1="517" y2="523.6"/>
<line x1="76.5" x2="76.5" y1="516.2" y2="524.8"/>
<line x1="91.5" x2="91.5" y1="517" y2="523.6"/>
<line x1="106.4" x2="106.4" y1="517" y2="523.6"/>
<line x1="121.4" x2="121.4" y1="517" y2="523.6"/>
<line x1="136.4" x2="136.4" y1="516.2" y2="524.8"/>
</g>
<g font-family="Liberation Sans, Arial, sans-serif" font-size="11.5" fill="#222">
<text transform="translate(16.1,509.4) scale(0.93,1)" font-size="12.3" fill="#222" font-weight="normal" text-anchor="middle" >0</text>
<text transform="translate(46.5,509.4) scale(0.93,1)" font-size="12.3" fill="#222" font-weight="normal" text-anchor="middle" >1.25</text>
<text transform="translate(75.6,509.4) scale(0.93,1)" font-size="12.3" fill="#222" font-weight="normal" text-anchor="middle" >2.5</text>
<text transform="translate(131.3,509.4) scale(0.93,1)" font-size="12.3" fill="#222" letter-spacing="0.7">5 km</text>
</g>
<rect x="11.5" y="3.5" width="378" height="528.3" fill="none" stroke="#161616" stroke-width="1.6"/>
<line x1="111.5" x2="111.5" y1="531.8" y2="536" stroke="#333" stroke-width="0.8"/>
<text x="111.3" y="540.2" font-size="4.5" fill="#555" text-anchor="middle" font-family="Liberation Sans, Arial, sans-serif">140°20'E</text>
<line x1="7" x2="11.5" y1="382.3" y2="382.3" stroke="#333" stroke-width="0.8"/>
<text transform="translate(4.6,381.5) rotate(-90)" font-size="3.8" fill="#666" text-anchor="middle" font-family="Liberation Sans, Arial, sans-serif">34°20'S</text>
<line x1="9" x2="11.5" y1="153.9" y2="153.9" stroke="#333" stroke-width="0.8"/>
</svg>
</body></html>
